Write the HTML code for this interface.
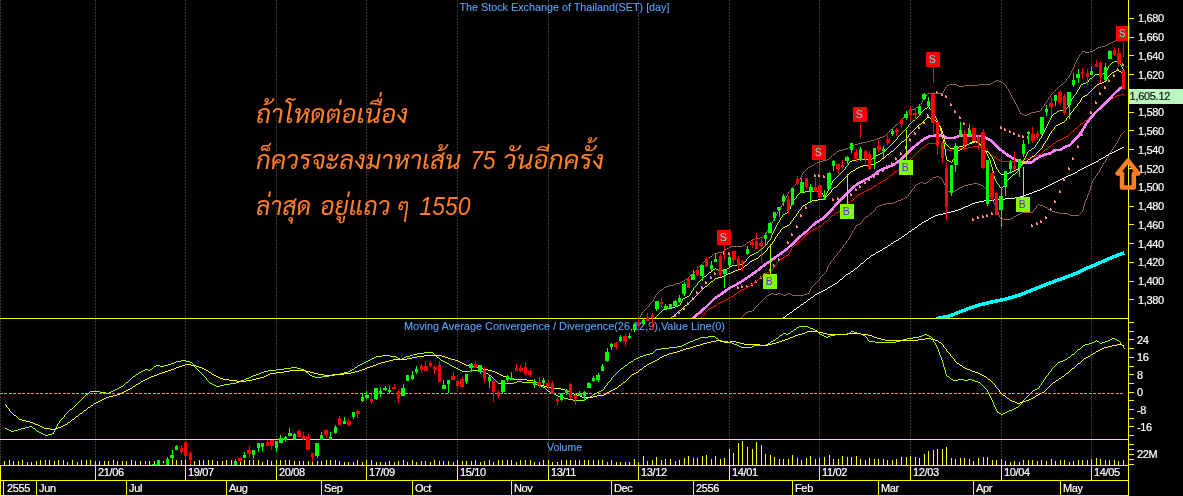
<!DOCTYPE html>
<html lang="th"><head><meta charset="utf-8"><title>SET chart</title>
<style>html,body{margin:0;padding:0;background:#000;overflow:hidden}body{width:1183px;height:496px;position:relative}</style></head>
<body>
<svg width="1183" height="496" viewBox="0 0 1183 496" style="display:block;position:absolute;left:0;top:0">
<defs>
<clipPath id="cTop"><rect x="0" y="0" width="1128" height="318"/></clipPath>
<clipPath id="cMk"><rect x="0" y="0" width="1130" height="318"/></clipPath>
<clipPath id="cMacd"><rect x="0" y="319" width="1128" height="120"/></clipPath>
<clipPath id="cAll"><rect x="0" y="0" width="1128" height="465"/></clipPath>
</defs>
<rect width="1183" height="496" fill="#000"/>
<g stroke="#3b363b" stroke-width="1" stroke-dasharray="2 1" shape-rendering="crispEdges">
<line x1="0.5" y1="0" x2="0.5" y2="465"/>
<line x1="95.5" y1="0" x2="95.5" y2="465"/>
<line x1="185.5" y1="0" x2="185.5" y2="465"/>
<line x1="276.5" y1="0" x2="276.5" y2="465"/>
<line x1="366.5" y1="0" x2="366.5" y2="465"/>
<line x1="457.5" y1="0" x2="457.5" y2="465"/>
<line x1="548.5" y1="0" x2="548.5" y2="465"/>
<line x1="638.5" y1="0" x2="638.5" y2="465"/>
<line x1="729.5" y1="0" x2="729.5" y2="465"/>
<line x1="819.5" y1="0" x2="819.5" y2="465"/>
<line x1="910.5" y1="0" x2="910.5" y2="465"/>
<line x1="1001.5" y1="0" x2="1001.5" y2="465"/>
<line x1="1091.5" y1="0" x2="1091.5" y2="465"/>
</g>
<g fill="#ffff00" shape-rendering="crispEdges">
<rect x="0" y="318" width="1129" height="1"/>
<rect x="0" y="439" width="1129" height="1"/>
<rect x="0" y="465" width="1129" height="1"/>
<rect x="0" y="480" width="1129" height="1"/>
<rect x="0" y="495" width="1129" height="1"/>
<rect x="0" y="465" width="1" height="31"/>
<rect x="3" y="480" width="1" height="16"/>
<rect x="1128" y="465" width="1" height="31"/>
<rect x="95" y="465" width="1" height="16"/>
<rect x="185" y="465" width="1" height="16"/>
<rect x="276" y="465" width="1" height="16"/>
<rect x="366" y="465" width="1" height="16"/>
<rect x="457" y="465" width="1" height="16"/>
<rect x="548" y="465" width="1" height="16"/>
<rect x="638" y="465" width="1" height="16"/>
<rect x="729" y="465" width="1" height="16"/>
<rect x="819" y="465" width="1" height="16"/>
<rect x="910" y="465" width="1" height="16"/>
<rect x="1001" y="465" width="1" height="16"/>
<rect x="1091" y="465" width="1" height="16"/>
<rect x="36" y="480" width="1" height="16"/>
<rect x="126" y="480" width="1" height="16"/>
<rect x="226" y="480" width="1" height="16"/>
<rect x="321" y="480" width="1" height="16"/>
<rect x="412" y="480" width="1" height="16"/>
<rect x="511" y="480" width="1" height="16"/>
<rect x="611" y="480" width="1" height="16"/>
<rect x="693" y="480" width="1" height="16"/>
<rect x="792" y="480" width="1" height="16"/>
<rect x="878" y="480" width="1" height="16"/>
<rect x="973" y="480" width="1" height="16"/>
<rect x="1060" y="480" width="1" height="16"/>
<rect x="4" y="461" width="1" height="4"/>
<rect x="9" y="460" width="1" height="5"/>
<rect x="13" y="461" width="1" height="4"/>
<rect x="18" y="461" width="1" height="4"/>
<rect x="22" y="460" width="1" height="5"/>
<rect x="27" y="462" width="1" height="3"/>
<rect x="31" y="462" width="1" height="3"/>
<rect x="36" y="461" width="1" height="4"/>
<rect x="40" y="460" width="1" height="5"/>
<rect x="45" y="460" width="1" height="5"/>
<rect x="49" y="460" width="1" height="5"/>
<rect x="54" y="461" width="1" height="4"/>
<rect x="58" y="460" width="1" height="5"/>
<rect x="63" y="460" width="1" height="5"/>
<rect x="67" y="462" width="1" height="3"/>
<rect x="72" y="460" width="1" height="5"/>
<rect x="77" y="462" width="1" height="3"/>
<rect x="81" y="460" width="1" height="5"/>
<rect x="86" y="460" width="1" height="5"/>
<rect x="90" y="460" width="1" height="5"/>
<rect x="95" y="461" width="1" height="4"/>
<rect x="99" y="461" width="1" height="4"/>
<rect x="104" y="461" width="1" height="4"/>
<rect x="108" y="461" width="1" height="4"/>
<rect x="113" y="460" width="1" height="5"/>
<rect x="117" y="461" width="1" height="4"/>
<rect x="122" y="461" width="1" height="4"/>
<rect x="126" y="461" width="1" height="4"/>
<rect x="131" y="460" width="1" height="5"/>
<rect x="135" y="461" width="1" height="4"/>
<rect x="140" y="461" width="1" height="4"/>
<rect x="145" y="461" width="1" height="4"/>
<rect x="149" y="461" width="1" height="4"/>
<rect x="154" y="461" width="1" height="4"/>
<rect x="158" y="461" width="1" height="4"/>
<rect x="163" y="461" width="1" height="4"/>
<rect x="167" y="460" width="1" height="5"/>
<rect x="172" y="460" width="1" height="5"/>
<rect x="176" y="460" width="1" height="5"/>
<rect x="181" y="460" width="1" height="5"/>
<rect x="185" y="460" width="1" height="5"/>
<rect x="190" y="460" width="1" height="5"/>
<rect x="194" y="461" width="1" height="4"/>
<rect x="199" y="460" width="1" height="5"/>
<rect x="203" y="460" width="1" height="5"/>
<rect x="208" y="460" width="1" height="5"/>
<rect x="212" y="460" width="1" height="5"/>
<rect x="217" y="461" width="1" height="4"/>
<rect x="222" y="461" width="1" height="4"/>
<rect x="226" y="460" width="1" height="5"/>
<rect x="231" y="460" width="1" height="5"/>
<rect x="235" y="460" width="1" height="5"/>
<rect x="240" y="460" width="1" height="5"/>
<rect x="244" y="460" width="1" height="5"/>
<rect x="249" y="460" width="1" height="5"/>
<rect x="253" y="460" width="1" height="5"/>
<rect x="258" y="460" width="1" height="5"/>
<rect x="262" y="462" width="1" height="3"/>
<rect x="267" y="460" width="1" height="5"/>
<rect x="271" y="461" width="1" height="4"/>
<rect x="276" y="460" width="1" height="5"/>
<rect x="280" y="460" width="1" height="5"/>
<rect x="285" y="460" width="1" height="5"/>
<rect x="289" y="460" width="1" height="5"/>
<rect x="294" y="461" width="1" height="4"/>
<rect x="299" y="461" width="1" height="4"/>
<rect x="303" y="461" width="1" height="4"/>
<rect x="308" y="461" width="1" height="4"/>
<rect x="312" y="460" width="1" height="5"/>
<rect x="317" y="461" width="1" height="4"/>
<rect x="321" y="461" width="1" height="4"/>
<rect x="326" y="460" width="1" height="5"/>
<rect x="330" y="460" width="1" height="5"/>
<rect x="335" y="460" width="1" height="5"/>
<rect x="339" y="461" width="1" height="4"/>
<rect x="344" y="462" width="1" height="3"/>
<rect x="348" y="462" width="1" height="3"/>
<rect x="353" y="462" width="1" height="3"/>
<rect x="357" y="460" width="1" height="5"/>
<rect x="362" y="462" width="1" height="3"/>
<rect x="366" y="460" width="1" height="5"/>
<rect x="371" y="460" width="1" height="5"/>
<rect x="376" y="462" width="1" height="3"/>
<rect x="380" y="462" width="1" height="3"/>
<rect x="385" y="462" width="1" height="3"/>
<rect x="389" y="461" width="1" height="4"/>
<rect x="394" y="462" width="1" height="3"/>
<rect x="398" y="461" width="1" height="4"/>
<rect x="403" y="460" width="1" height="5"/>
<rect x="407" y="462" width="1" height="3"/>
<rect x="412" y="460" width="1" height="5"/>
<rect x="416" y="462" width="1" height="3"/>
<rect x="421" y="461" width="1" height="4"/>
<rect x="425" y="461" width="1" height="4"/>
<rect x="430" y="462" width="1" height="3"/>
<rect x="434" y="460" width="1" height="5"/>
<rect x="439" y="461" width="1" height="4"/>
<rect x="443" y="461" width="1" height="4"/>
<rect x="448" y="461" width="1" height="4"/>
<rect x="453" y="462" width="1" height="3"/>
<rect x="457" y="460" width="1" height="5"/>
<rect x="462" y="461" width="1" height="4"/>
<rect x="466" y="461" width="1" height="4"/>
<rect x="471" y="461" width="1" height="4"/>
<rect x="475" y="460" width="1" height="5"/>
<rect x="480" y="462" width="1" height="3"/>
<rect x="484" y="461" width="1" height="4"/>
<rect x="489" y="460" width="1" height="5"/>
<rect x="493" y="462" width="1" height="3"/>
<rect x="498" y="460" width="1" height="5"/>
<rect x="502" y="460" width="1" height="5"/>
<rect x="507" y="460" width="1" height="5"/>
<rect x="511" y="460" width="1" height="5"/>
<rect x="516" y="462" width="1" height="3"/>
<rect x="520" y="460" width="1" height="5"/>
<rect x="525" y="460" width="1" height="5"/>
<rect x="530" y="460" width="1" height="5"/>
<rect x="534" y="462" width="1" height="3"/>
<rect x="539" y="462" width="1" height="3"/>
<rect x="543" y="460" width="1" height="5"/>
<rect x="548" y="460" width="1" height="5"/>
<rect x="552" y="462" width="1" height="3"/>
<rect x="557" y="462" width="1" height="3"/>
<rect x="561" y="460" width="1" height="5"/>
<rect x="566" y="460" width="1" height="5"/>
<rect x="570" y="460" width="1" height="5"/>
<rect x="575" y="460" width="1" height="5"/>
<rect x="579" y="460" width="1" height="5"/>
<rect x="584" y="460" width="1" height="5"/>
<rect x="588" y="460" width="1" height="5"/>
<rect x="593" y="460" width="1" height="5"/>
<rect x="598" y="460" width="1" height="5"/>
<rect x="602" y="460" width="1" height="5"/>
<rect x="607" y="462" width="1" height="3"/>
<rect x="611" y="460" width="1" height="5"/>
<rect x="616" y="462" width="1" height="3"/>
<rect x="620" y="462" width="1" height="3"/>
<rect x="625" y="462" width="1" height="3"/>
<rect x="629" y="462" width="1" height="3"/>
<rect x="634" y="459" width="1" height="6"/>
<rect x="638" y="462" width="1" height="3"/>
<rect x="643" y="456" width="1" height="9"/>
<rect x="647" y="461" width="1" height="4"/>
<rect x="652" y="460" width="1" height="5"/>
<rect x="656" y="457" width="1" height="8"/>
<rect x="661" y="460" width="1" height="5"/>
<rect x="665" y="459" width="1" height="6"/>
<rect x="670" y="459" width="1" height="6"/>
<rect x="675" y="461" width="1" height="4"/>
<rect x="679" y="460" width="1" height="5"/>
<rect x="684" y="458" width="1" height="7"/>
<rect x="688" y="456" width="1" height="9"/>
<rect x="693" y="458" width="1" height="7"/>
<rect x="697" y="458" width="1" height="7"/>
<rect x="702" y="456" width="1" height="9"/>
<rect x="706" y="455" width="1" height="10"/>
<rect x="711" y="459" width="1" height="6"/>
<rect x="715" y="456" width="1" height="9"/>
<rect x="720" y="459" width="1" height="6"/>
<rect x="724" y="458" width="1" height="7"/>
<rect x="729" y="449" width="1" height="16"/>
<rect x="733" y="453" width="1" height="12"/>
<rect x="738" y="443" width="1" height="22"/>
<rect x="742" y="441" width="1" height="24"/>
<rect x="747" y="447" width="1" height="18"/>
<rect x="752" y="449" width="1" height="16"/>
<rect x="756" y="442" width="1" height="23"/>
<rect x="761" y="445" width="1" height="20"/>
<rect x="765" y="454" width="1" height="11"/>
<rect x="770" y="455" width="1" height="10"/>
<rect x="774" y="457" width="1" height="8"/>
<rect x="779" y="459" width="1" height="6"/>
<rect x="783" y="459" width="1" height="6"/>
<rect x="788" y="459" width="1" height="6"/>
<rect x="792" y="455" width="1" height="10"/>
<rect x="797" y="458" width="1" height="7"/>
<rect x="801" y="460" width="1" height="5"/>
<rect x="806" y="458" width="1" height="7"/>
<rect x="810" y="456" width="1" height="9"/>
<rect x="815" y="459" width="1" height="6"/>
<rect x="819" y="458" width="1" height="7"/>
<rect x="824" y="457" width="1" height="8"/>
<rect x="829" y="455" width="1" height="10"/>
<rect x="833" y="459" width="1" height="6"/>
<rect x="838" y="459" width="1" height="6"/>
<rect x="842" y="456" width="1" height="9"/>
<rect x="847" y="457" width="1" height="8"/>
<rect x="851" y="457" width="1" height="8"/>
<rect x="856" y="456" width="1" height="9"/>
<rect x="860" y="459" width="1" height="6"/>
<rect x="865" y="460" width="1" height="5"/>
<rect x="869" y="458" width="1" height="7"/>
<rect x="874" y="459" width="1" height="6"/>
<rect x="878" y="459" width="1" height="6"/>
<rect x="883" y="459" width="1" height="6"/>
<rect x="887" y="460" width="1" height="5"/>
<rect x="892" y="460" width="1" height="5"/>
<rect x="896" y="459" width="1" height="6"/>
<rect x="901" y="457" width="1" height="8"/>
<rect x="906" y="457" width="1" height="8"/>
<rect x="910" y="456" width="1" height="9"/>
<rect x="915" y="457" width="1" height="8"/>
<rect x="919" y="458" width="1" height="7"/>
<rect x="924" y="454" width="1" height="11"/>
<rect x="928" y="451" width="1" height="14"/>
<rect x="933" y="450" width="1" height="15"/>
<rect x="937" y="449" width="1" height="16"/>
<rect x="942" y="449" width="1" height="16"/>
<rect x="946" y="447" width="1" height="18"/>
<rect x="951" y="458" width="1" height="7"/>
<rect x="955" y="459" width="1" height="6"/>
<rect x="960" y="458" width="1" height="7"/>
<rect x="964" y="458" width="1" height="7"/>
<rect x="969" y="459" width="1" height="6"/>
<rect x="973" y="461" width="1" height="4"/>
<rect x="978" y="458" width="1" height="7"/>
<rect x="983" y="457" width="1" height="8"/>
<rect x="987" y="457" width="1" height="8"/>
<rect x="992" y="460" width="1" height="5"/>
<rect x="996" y="460" width="1" height="5"/>
<rect x="1001" y="459" width="1" height="6"/>
<rect x="1005" y="461" width="1" height="4"/>
<rect x="1010" y="462" width="1" height="3"/>
<rect x="1014" y="461" width="1" height="4"/>
<rect x="1019" y="462" width="1" height="3"/>
<rect x="1023" y="460" width="1" height="5"/>
<rect x="1028" y="460" width="1" height="5"/>
<rect x="1032" y="460" width="1" height="5"/>
<rect x="1037" y="461" width="1" height="4"/>
<rect x="1041" y="460" width="1" height="5"/>
<rect x="1046" y="461" width="1" height="4"/>
<rect x="1051" y="459" width="1" height="6"/>
<rect x="1055" y="461" width="1" height="4"/>
<rect x="1060" y="460" width="1" height="5"/>
<rect x="1064" y="460" width="1" height="5"/>
<rect x="1069" y="462" width="1" height="3"/>
<rect x="1073" y="461" width="1" height="4"/>
<rect x="1078" y="460" width="1" height="5"/>
<rect x="1082" y="460" width="1" height="5"/>
<rect x="1087" y="460" width="1" height="5"/>
<rect x="1091" y="459" width="1" height="6"/>
<rect x="1096" y="458" width="1" height="7"/>
<rect x="1100" y="459" width="1" height="6"/>
<rect x="1105" y="460" width="1" height="5"/>
<rect x="1109" y="460" width="1" height="5"/>
<rect x="1114" y="460" width="1" height="5"/>
<rect x="1118" y="461" width="1" height="4"/>
<rect x="1123" y="460" width="1" height="5"/>
</g>
<g font-family="'Liberation Sans',Arial,sans-serif" font-size="11" fill="#58a4ff" stroke="#58a4ff" stroke-width="0.1">
<text x="459.5" y="10.6" textLength="210" lengthAdjust="spacingAndGlyphs">The Stock Exchange of Thailand(SET) [day]</text>
<text x="404" y="329.5" textLength="321" lengthAdjust="spacingAndGlyphs">Moving Average Convergence / Divergence(26,12,9),Value Line(0)</text>
<text x="547" y="451" textLength="35" lengthAdjust="spacingAndGlyphs">Volume</text>
</g>
<line x1="0" y1="393.5" x2="1125" y2="393.5" stroke="#ff8080" stroke-width="1" stroke-dasharray="3 2 3 1" stroke-dashoffset="5" shape-rendering="crispEdges"/>
<path d="M799 326h9v1h-9zM797 327h2v1h-2zM808 327h2v1h-2zM796 328h1v1h-1zM810 328h3v1h-3zM794 329h2v1h-2zM813 329h2v1h-2zM793 330h1v1h-1zM815 330h2v1h-2zM791 331h2v1h-2zM817 331h1v1h-1zM851 331h3v1h-3zM790 332h1v1h-1zM818 332h1v1h-1zM850 332h1v1h-1zM854 332h3v1h-3zM783 333h3v1h-3zM788 333h2v1h-2zM819 333h1v1h-1zM848 333h2v1h-2zM857 333h4v1h-4zM782 334h1v1h-1zM786 334h2v1h-2zM820 334h2v1h-2zM835 334h13v1h-13zM861 334h2v1h-2zM924 334h3v1h-3zM780 335h2v1h-2zM822 335h2v1h-2zM830 335h5v1h-5zM863 335h2v1h-2zM922 335h2v1h-2zM927 335h2v1h-2zM708 336h7v1h-7zM779 336h1v1h-1zM824 336h2v1h-2zM828 336h2v1h-2zM865 336h1v1h-1zM919 336h3v1h-3zM929 336h2v1h-2zM700 337h8v1h-8zM715 337h1v1h-1zM778 337h1v1h-1zM826 337h2v1h-2zM866 337h1v1h-1zM913 337h6v1h-6zM931 337h1v1h-1zM698 338h2v1h-2zM716 338h2v1h-2zM776 338h2v1h-2zM867 338h1v1h-1zM907 338h6v1h-6zM932 338h1v1h-1zM1112 338h3v1h-3zM695 339h3v1h-3zM718 339h1v1h-1zM775 339h1v1h-1zM867 339h1v1h-1zM903 339h4v1h-4zM932 339h1v1h-1zM1110 339h2v1h-2zM1115 339h2v1h-2zM693 340h2v1h-2zM719 340h3v1h-3zM773 340h2v1h-2zM868 340h1v1h-1zM900 340h3v1h-3zM933 340h1v1h-1zM1096 340h1v1h-1zM1108 340h2v1h-2zM1117 340h2v1h-2zM690 341h3v1h-3zM722 341h6v1h-6zM771 341h2v1h-2zM869 341h6v1h-6zM896 341h4v1h-4zM933 341h1v1h-1zM1094 341h2v1h-2zM1097 341h2v1h-2zM1105 341h3v1h-3zM1119 341h1v1h-1zM688 342h2v1h-2zM728 342h4v1h-4zM770 342h1v1h-1zM875 342h21v1h-21zM934 342h1v1h-1zM1092 342h2v1h-2zM1099 342h1v1h-1zM1102 342h3v1h-3zM1120 342h1v1h-1zM686 343h2v1h-2zM732 343h2v1h-2zM768 343h2v1h-2zM935 343h1v1h-1zM1089 343h3v1h-3zM1100 343h2v1h-2zM1120 343h1v1h-1zM684 344h2v1h-2zM734 344h3v1h-3zM766 344h2v1h-2zM935 344h1v1h-1zM1085 344h4v1h-4zM1121 344h1v1h-1zM682 345h2v1h-2zM737 345h2v1h-2zM754 345h12v1h-12zM936 345h1v1h-1zM1083 345h2v1h-2zM1122 345h1v1h-1zM677 346h5v1h-5zM739 346h2v1h-2zM752 346h2v1h-2zM936 346h1v1h-1zM1082 346h1v1h-1zM1123 346h1v1h-1zM669 347h8v1h-8zM741 347h11v1h-11zM937 347h1v1h-1zM1081 347h1v1h-1zM1123 347h1v1h-1zM661 348h8v1h-8zM937 348h1v1h-1zM1080 348h1v1h-1zM1124 348h1v1h-1zM656 349h5v1h-5zM938 349h1v1h-1zM1078 349h2v1h-2zM655 350h1v1h-1zM938 350h1v1h-1zM1077 350h1v1h-1zM654 351h1v1h-1zM938 351h1v1h-1zM1076 351h1v1h-1zM424 352h9v1h-9zM653 352h1v1h-1zM939 352h1v1h-1zM1075 352h1v1h-1zM417 353h7v1h-7zM433 353h1v1h-1zM650 353h3v1h-3zM939 353h1v1h-1zM1074 353h1v1h-1zM413 354h4v1h-4zM434 354h1v1h-1zM646 354h4v1h-4zM939 354h1v1h-1zM1072 354h2v1h-2zM382 355h8v1h-8zM410 355h3v1h-3zM435 355h1v1h-1zM643 355h3v1h-3zM940 355h1v1h-1zM1071 355h1v1h-1zM376 356h6v1h-6zM390 356h6v1h-6zM406 356h4v1h-4zM436 356h1v1h-1zM640 356h3v1h-3zM940 356h1v1h-1zM1070 356h1v1h-1zM374 357h2v1h-2zM396 357h2v1h-2zM404 357h2v1h-2zM437 357h2v1h-2zM638 357h2v1h-2zM941 357h1v1h-1zM1068 357h2v1h-2zM372 358h2v1h-2zM398 358h2v1h-2zM402 358h2v1h-2zM439 358h1v1h-1zM636 358h2v1h-2zM941 358h1v1h-1zM1067 358h1v1h-1zM370 359h2v1h-2zM400 359h2v1h-2zM440 359h1v1h-1zM634 359h2v1h-2zM941 359h1v1h-1zM1065 359h2v1h-2zM181 360h5v1h-5zM368 360h2v1h-2zM441 360h2v1h-2zM633 360h1v1h-1zM942 360h1v1h-1zM1063 360h2v1h-2zM176 361h5v1h-5zM186 361h4v1h-4zM366 361h2v1h-2zM443 361h2v1h-2zM631 361h2v1h-2zM942 361h1v1h-1zM1060 361h3v1h-3zM174 362h2v1h-2zM190 362h2v1h-2zM364 362h2v1h-2zM445 362h2v1h-2zM629 362h2v1h-2zM942 362h1v1h-1zM1058 362h2v1h-2zM171 363h3v1h-3zM192 363h1v1h-1zM362 363h2v1h-2zM447 363h2v1h-2zM628 363h1v1h-1zM943 363h1v1h-1zM1057 363h1v1h-1zM168 364h3v1h-3zM193 364h1v1h-1zM360 364h2v1h-2zM449 364h1v1h-1zM627 364h1v1h-1zM943 364h1v1h-1zM1056 364h1v1h-1zM156 365h4v1h-4zM164 365h4v1h-4zM194 365h1v1h-1zM358 365h2v1h-2zM450 365h2v1h-2zM625 365h2v1h-2zM943 365h1v1h-1zM1055 365h1v1h-1zM154 366h2v1h-2zM160 366h4v1h-4zM194 366h1v1h-1zM357 366h1v1h-1zM452 366h2v1h-2zM624 366h1v1h-1zM943 366h1v1h-1zM1054 366h1v1h-1zM153 367h1v1h-1zM195 367h1v1h-1zM291 367h6v1h-6zM355 367h2v1h-2zM454 367h2v1h-2zM623 367h1v1h-1zM944 367h1v1h-1zM1053 367h1v1h-1zM152 368h1v1h-1zM196 368h1v1h-1zM284 368h7v1h-7zM297 368h4v1h-4zM354 368h1v1h-1zM456 368h2v1h-2zM621 368h2v1h-2zM944 368h1v1h-1zM1052 368h1v1h-1zM145 369h3v1h-3zM150 369h2v1h-2zM197 369h1v1h-1zM276 369h8v1h-8zM301 369h3v1h-3zM352 369h2v1h-2zM458 369h2v1h-2zM620 369h1v1h-1zM944 369h1v1h-1zM1051 369h1v1h-1zM143 370h2v1h-2zM148 370h2v1h-2zM198 370h1v1h-1zM268 370h8v1h-8zM304 370h1v1h-1zM350 370h2v1h-2zM460 370h2v1h-2zM470 370h11v1h-11zM619 370h1v1h-1zM945 370h1v1h-1zM1051 370h1v1h-1zM141 371h2v1h-2zM199 371h1v1h-1zM264 371h4v1h-4zM305 371h1v1h-1zM348 371h2v1h-2zM462 371h8v1h-8zM481 371h2v1h-2zM618 371h1v1h-1zM945 371h1v1h-1zM1050 371h1v1h-1zM139 372h2v1h-2zM200 372h1v1h-1zM261 372h3v1h-3zM306 372h2v1h-2zM344 372h4v1h-4zM483 372h3v1h-3zM617 372h1v1h-1zM945 372h1v1h-1zM1049 372h1v1h-1zM138 373h1v1h-1zM201 373h1v1h-1zM259 373h2v1h-2zM308 373h1v1h-1zM340 373h4v1h-4zM486 373h2v1h-2zM616 373h1v1h-1zM945 373h1v1h-1zM1048 373h1v1h-1zM136 374h2v1h-2zM202 374h1v1h-1zM256 374h3v1h-3zM309 374h1v1h-1zM335 374h5v1h-5zM488 374h1v1h-1zM615 374h1v1h-1zM946 374h1v1h-1zM1048 374h1v1h-1zM135 375h1v1h-1zM203 375h1v1h-1zM253 375h3v1h-3zM310 375h2v1h-2zM329 375h6v1h-6zM489 375h2v1h-2zM614 375h1v1h-1zM946 375h1v1h-1zM1047 375h1v1h-1zM133 376h2v1h-2zM204 376h1v1h-1zM251 376h2v1h-2zM312 376h3v1h-3zM322 376h7v1h-7zM491 376h1v1h-1zM613 376h1v1h-1zM947 376h2v1h-2zM1046 376h1v1h-1zM132 377h1v1h-1zM205 377h1v1h-1zM249 377h2v1h-2zM315 377h7v1h-7zM492 377h1v1h-1zM612 377h1v1h-1zM949 377h1v1h-1zM1045 377h1v1h-1zM131 378h1v1h-1zM206 378h1v1h-1zM246 378h3v1h-3zM493 378h1v1h-1zM611 378h1v1h-1zM950 378h1v1h-1zM1045 378h1v1h-1zM130 379h1v1h-1zM206 379h1v1h-1zM244 379h2v1h-2zM494 379h1v1h-1zM611 379h1v1h-1zM951 379h2v1h-2zM958 379h6v1h-6zM968 379h4v1h-4zM1044 379h1v1h-1zM129 380h1v1h-1zM207 380h1v1h-1zM241 380h3v1h-3zM495 380h1v1h-1zM610 380h1v1h-1zM953 380h5v1h-5zM964 380h4v1h-4zM972 380h3v1h-3zM1043 380h1v1h-1zM128 381h1v1h-1zM208 381h1v1h-1zM239 381h2v1h-2zM496 381h1v1h-1zM517 381h5v1h-5zM609 381h1v1h-1zM975 381h3v1h-3zM1043 381h1v1h-1zM126 382h2v1h-2zM209 382h1v1h-1zM236 382h3v1h-3zM497 382h1v1h-1zM514 382h3v1h-3zM522 382h12v1h-12zM608 382h1v1h-1zM978 382h2v1h-2zM1042 382h1v1h-1zM125 383h1v1h-1zM210 383h2v1h-2zM230 383h6v1h-6zM498 383h16v1h-16zM534 383h2v1h-2zM607 383h1v1h-1zM980 383h1v1h-1zM1041 383h1v1h-1zM124 384h1v1h-1zM212 384h2v1h-2zM224 384h6v1h-6zM536 384h2v1h-2zM607 384h1v1h-1zM981 384h1v1h-1zM1041 384h1v1h-1zM123 385h1v1h-1zM214 385h2v1h-2zM220 385h4v1h-4zM538 385h3v1h-3zM606 385h1v1h-1zM982 385h1v1h-1zM1040 385h1v1h-1zM121 386h2v1h-2zM216 386h4v1h-4zM541 386h2v1h-2zM605 386h1v1h-1zM983 386h1v1h-1zM1039 386h1v1h-1zM119 387h2v1h-2zM543 387h2v1h-2zM604 387h1v1h-1zM984 387h1v1h-1zM1039 387h1v1h-1zM117 388h2v1h-2zM545 388h1v1h-1zM604 388h1v1h-1zM985 388h1v1h-1zM1037 388h2v1h-2zM115 389h2v1h-2zM546 389h1v1h-1zM603 389h1v1h-1zM986 389h1v1h-1zM1035 389h2v1h-2zM113 390h2v1h-2zM547 390h1v1h-1zM601 390h2v1h-2zM987 390h1v1h-1zM1033 390h2v1h-2zM90 391h10v1h-10zM111 391h2v1h-2zM548 391h2v1h-2zM599 391h2v1h-2zM987 391h1v1h-1zM1032 391h1v1h-1zM89 392h1v1h-1zM100 392h6v1h-6zM109 392h2v1h-2zM550 392h2v1h-2zM597 392h2v1h-2zM988 392h1v1h-1zM1031 392h1v1h-1zM88 393h1v1h-1zM106 393h3v1h-3zM552 393h2v1h-2zM595 393h2v1h-2zM988 393h1v1h-1zM1030 393h1v1h-1zM86 394h2v1h-2zM554 394h2v1h-2zM593 394h2v1h-2zM989 394h1v1h-1zM1029 394h1v1h-1zM85 395h1v1h-1zM556 395h2v1h-2zM592 395h1v1h-1zM989 395h1v1h-1zM1028 395h1v1h-1zM84 396h1v1h-1zM558 396h2v1h-2zM590 396h2v1h-2zM990 396h1v1h-1zM1027 396h1v1h-1zM83 397h1v1h-1zM560 397h4v1h-4zM588 397h2v1h-2zM990 397h1v1h-1zM1026 397h1v1h-1zM82 398h1v1h-1zM564 398h4v1h-4zM586 398h2v1h-2zM991 398h1v1h-1zM1025 398h1v1h-1zM81 399h1v1h-1zM568 399h5v1h-5zM584 399h2v1h-2zM991 399h1v1h-1zM1024 399h1v1h-1zM80 400h1v1h-1zM573 400h11v1h-11zM992 400h1v1h-1zM1023 400h1v1h-1zM79 401h1v1h-1zM992 401h1v1h-1zM1022 401h1v1h-1zM78 402h1v1h-1zM993 402h1v1h-1zM1021 402h1v1h-1zM77 403h1v1h-1zM993 403h1v1h-1zM1021 403h1v1h-1zM76 404h1v1h-1zM993 404h1v1h-1zM1020 404h1v1h-1zM75 405h1v1h-1zM994 405h1v1h-1zM1019 405h1v1h-1zM74 406h1v1h-1zM994 406h1v1h-1zM1018 406h1v1h-1zM73 407h1v1h-1zM995 407h1v1h-1zM1016 407h2v1h-2zM72 408h1v1h-1zM995 408h1v1h-1zM1014 408h2v1h-2zM70 409h2v1h-2zM996 409h1v1h-1zM1012 409h2v1h-2zM69 410h1v1h-1zM996 410h1v1h-1zM1009 410h3v1h-3zM68 411h1v1h-1zM997 411h1v1h-1zM1007 411h2v1h-2zM67 412h1v1h-1zM997 412h2v1h-2zM1005 412h2v1h-2zM66 413h1v1h-1zM999 413h2v1h-2zM1003 413h2v1h-2zM65 414h1v1h-1zM1001 414h2v1h-2zM64 415h1v1h-1zM64 416h1v1h-1zM63 417h1v1h-1zM62 418h1v1h-1zM61 419h1v1h-1zM60 420h1v1h-1zM59 421h1v1h-1zM59 422h1v1h-1zM58 423h1v1h-1zM57 424h1v1h-1zM57 425h1v1h-1zM29 426h3v1h-3zM56 426h1v1h-1zM25 427h4v1h-4zM32 427h1v1h-1zM56 427h1v1h-1zM5 428h2v1h-2zM21 428h4v1h-4zM33 428h2v1h-2zM55 428h1v1h-1zM7 429h2v1h-2zM18 429h3v1h-3zM35 429h1v1h-1zM55 429h1v1h-1zM9 430h2v1h-2zM14 430h4v1h-4zM36 430h1v1h-1zM54 430h1v1h-1zM11 431h3v1h-3zM37 431h2v1h-2zM54 431h1v1h-1zM39 432h2v1h-2zM53 432h1v1h-1zM41 433h2v1h-2zM52 433h2v1h-2zM43 434h2v1h-2zM48 434h4v1h-4zM45 435h3v1h-3z" fill="#9bff00" shape-rendering="crispEdges"/>
<path d="M807 331h11v1h-11zM805 332h2v1h-2zM818 332h5v1h-5zM802 333h3v1h-3zM823 333h4v1h-4zM847 333h14v1h-14zM798 334h4v1h-4zM827 334h20v1h-20zM861 334h7v1h-7zM795 335h3v1h-3zM868 335h4v1h-4zM793 336h2v1h-2zM872 336h2v1h-2zM790 337h3v1h-3zM874 337h3v1h-3zM788 338h2v1h-2zM877 338h4v1h-4zM925 338h6v1h-6zM785 339h3v1h-3zM881 339h4v1h-4zM918 339h7v1h-7zM931 339h4v1h-4zM716 340h4v1h-4zM782 340h3v1h-3zM885 340h33v1h-33zM935 340h3v1h-3zM711 341h5v1h-5zM720 341h4v1h-4zM730 341h6v1h-6zM779 341h3v1h-3zM938 341h1v1h-1zM707 342h4v1h-4zM724 342h6v1h-6zM736 342h4v1h-4zM776 342h3v1h-3zM939 342h2v1h-2zM703 343h4v1h-4zM740 343h4v1h-4zM772 343h4v1h-4zM941 343h1v1h-1zM700 344h3v1h-3zM744 344h16v1h-16zM768 344h4v1h-4zM942 344h1v1h-1zM1117 344h5v1h-5zM696 345h4v1h-4zM760 345h8v1h-8zM943 345h1v1h-1zM1112 345h5v1h-5zM1122 345h2v1h-2zM693 346h3v1h-3zM943 346h1v1h-1zM1108 346h4v1h-4zM690 347h3v1h-3zM944 347h1v1h-1zM1104 347h4v1h-4zM686 348h4v1h-4zM945 348h1v1h-1zM1102 348h2v1h-2zM683 349h3v1h-3zM946 349h1v1h-1zM1100 349h2v1h-2zM680 350h3v1h-3zM946 350h1v1h-1zM1098 350h2v1h-2zM677 351h3v1h-3zM947 351h1v1h-1zM1096 351h2v1h-2zM673 352h4v1h-4zM948 352h1v1h-1zM1095 352h1v1h-1zM669 353h4v1h-4zM949 353h1v1h-1zM1093 353h2v1h-2zM667 354h2v1h-2zM950 354h1v1h-1zM1091 354h2v1h-2zM424 355h18v1h-18zM664 355h3v1h-3zM950 355h1v1h-1zM1090 355h1v1h-1zM417 356h7v1h-7zM442 356h3v1h-3zM662 356h2v1h-2zM951 356h1v1h-1zM1088 356h2v1h-2zM412 357h5v1h-5zM445 357h3v1h-3zM660 357h2v1h-2zM952 357h1v1h-1zM1086 357h2v1h-2zM407 358h5v1h-5zM448 358h3v1h-3zM659 358h1v1h-1zM953 358h1v1h-1zM1084 358h2v1h-2zM393 359h14v1h-14zM451 359h4v1h-4zM657 359h2v1h-2zM954 359h1v1h-1zM1083 359h1v1h-1zM389 360h4v1h-4zM455 360h3v1h-3zM655 360h2v1h-2zM954 360h1v1h-1zM1082 360h1v1h-1zM385 361h4v1h-4zM458 361h2v1h-2zM653 361h2v1h-2zM955 361h1v1h-1zM1081 361h1v1h-1zM381 362h4v1h-4zM460 362h2v1h-2zM651 362h2v1h-2zM956 362h1v1h-1zM1080 362h1v1h-1zM378 363h3v1h-3zM462 363h2v1h-2zM649 363h2v1h-2zM957 363h2v1h-2zM1078 363h2v1h-2zM185 364h6v1h-6zM376 364h2v1h-2zM464 364h2v1h-2zM647 364h2v1h-2zM959 364h1v1h-1zM1077 364h1v1h-1zM182 365h3v1h-3zM191 365h5v1h-5zM373 365h3v1h-3zM466 365h5v1h-5zM646 365h1v1h-1zM960 365h2v1h-2zM1076 365h1v1h-1zM179 366h3v1h-3zM196 366h3v1h-3zM370 366h3v1h-3zM471 366h6v1h-6zM644 366h2v1h-2zM962 366h1v1h-1zM1075 366h1v1h-1zM176 367h3v1h-3zM199 367h3v1h-3zM367 367h3v1h-3zM477 367h4v1h-4zM643 367h1v1h-1zM963 367h2v1h-2zM1074 367h1v1h-1zM174 368h2v1h-2zM202 368h2v1h-2zM365 368h2v1h-2zM481 368h2v1h-2zM642 368h1v1h-1zM965 368h2v1h-2zM1072 368h2v1h-2zM171 369h3v1h-3zM204 369h2v1h-2zM362 369h3v1h-3zM483 369h5v1h-5zM640 369h2v1h-2zM967 369h3v1h-3zM1071 369h1v1h-1zM168 370h3v1h-3zM206 370h2v1h-2zM290 370h16v1h-16zM359 370h3v1h-3zM488 370h4v1h-4zM639 370h1v1h-1zM970 370h2v1h-2zM1070 370h1v1h-1zM165 371h3v1h-3zM208 371h1v1h-1zM284 371h6v1h-6zM306 371h4v1h-4zM355 371h4v1h-4zM492 371h3v1h-3zM638 371h1v1h-1zM972 371h3v1h-3zM1069 371h1v1h-1zM162 372h3v1h-3zM209 372h2v1h-2zM276 372h8v1h-8zM310 372h4v1h-4zM351 372h4v1h-4zM495 372h2v1h-2zM636 372h2v1h-2zM975 372h3v1h-3zM1068 372h1v1h-1zM159 373h3v1h-3zM211 373h1v1h-1zM270 373h6v1h-6zM314 373h4v1h-4zM344 373h7v1h-7zM497 373h2v1h-2zM634 373h2v1h-2zM978 373h2v1h-2zM1066 373h2v1h-2zM157 374h2v1h-2zM212 374h2v1h-2zM268 374h2v1h-2zM318 374h6v1h-6zM332 374h12v1h-12zM499 374h2v1h-2zM632 374h2v1h-2zM980 374h2v1h-2zM1065 374h1v1h-1zM154 375h3v1h-3zM214 375h2v1h-2zM266 375h2v1h-2zM324 375h8v1h-8zM501 375h2v1h-2zM631 375h1v1h-1zM982 375h2v1h-2zM1064 375h1v1h-1zM151 376h3v1h-3zM216 376h2v1h-2zM264 376h2v1h-2zM503 376h3v1h-3zM630 376h1v1h-1zM984 376h2v1h-2zM1062 376h2v1h-2zM149 377h2v1h-2zM218 377h2v1h-2zM260 377h4v1h-4zM506 377h3v1h-3zM629 377h1v1h-1zM986 377h1v1h-1zM1061 377h1v1h-1zM147 378h2v1h-2zM220 378h3v1h-3zM256 378h4v1h-4zM509 378h2v1h-2zM628 378h1v1h-1zM987 378h1v1h-1zM1059 378h2v1h-2zM145 379h2v1h-2zM223 379h6v1h-6zM252 379h4v1h-4zM511 379h16v1h-16zM627 379h1v1h-1zM988 379h2v1h-2zM1058 379h1v1h-1zM143 380h2v1h-2zM229 380h8v1h-8zM246 380h6v1h-6zM527 380h6v1h-6zM626 380h1v1h-1zM990 380h1v1h-1zM1056 380h2v1h-2zM141 381h2v1h-2zM237 381h9v1h-9zM533 381h2v1h-2zM625 381h1v1h-1zM991 381h1v1h-1zM1055 381h1v1h-1zM140 382h1v1h-1zM535 382h2v1h-2zM623 382h2v1h-2zM992 382h1v1h-1zM1053 382h2v1h-2zM138 383h2v1h-2zM537 383h2v1h-2zM622 383h1v1h-1zM993 383h1v1h-1zM1052 383h1v1h-1zM136 384h2v1h-2zM539 384h2v1h-2zM621 384h1v1h-1zM994 384h1v1h-1zM1051 384h1v1h-1zM135 385h1v1h-1zM541 385h3v1h-3zM619 385h2v1h-2zM995 385h1v1h-1zM1050 385h1v1h-1zM133 386h2v1h-2zM544 386h3v1h-3zM618 386h1v1h-1zM995 386h1v1h-1zM1049 386h1v1h-1zM132 387h1v1h-1zM547 387h7v1h-7zM617 387h1v1h-1zM996 387h1v1h-1zM1048 387h1v1h-1zM130 388h2v1h-2zM554 388h7v1h-7zM615 388h2v1h-2zM997 388h1v1h-1zM1047 388h1v1h-1zM128 389h2v1h-2zM561 389h4v1h-4zM613 389h2v1h-2zM998 389h1v1h-1zM1046 389h1v1h-1zM126 390h2v1h-2zM565 390h3v1h-3zM611 390h2v1h-2zM999 390h1v1h-1zM1045 390h1v1h-1zM124 391h2v1h-2zM568 391h2v1h-2zM609 391h2v1h-2zM999 391h1v1h-1zM1044 391h1v1h-1zM122 392h2v1h-2zM570 392h2v1h-2zM607 392h2v1h-2zM1000 392h1v1h-1zM1042 392h2v1h-2zM120 393h2v1h-2zM572 393h2v1h-2zM606 393h1v1h-1zM1001 393h1v1h-1zM1040 393h2v1h-2zM117 394h3v1h-3zM574 394h3v1h-3zM604 394h2v1h-2zM1002 394h1v1h-1zM1038 394h2v1h-2zM113 395h4v1h-4zM577 395h3v1h-3zM597 395h7v1h-7zM1003 395h2v1h-2zM1036 395h2v1h-2zM109 396h4v1h-4zM580 396h2v1h-2zM593 396h4v1h-4zM1005 396h1v1h-1zM1035 396h1v1h-1zM106 397h3v1h-3zM582 397h11v1h-11zM1006 397h1v1h-1zM1033 397h2v1h-2zM104 398h2v1h-2zM1007 398h2v1h-2zM1031 398h2v1h-2zM102 399h2v1h-2zM1009 399h1v1h-1zM1029 399h2v1h-2zM100 400h2v1h-2zM1010 400h2v1h-2zM1026 400h3v1h-3zM98 401h2v1h-2zM1012 401h3v1h-3zM1023 401h3v1h-3zM96 402h2v1h-2zM1015 402h2v1h-2zM1020 402h3v1h-3zM94 403h2v1h-2zM1017 403h3v1h-3zM5 404h1v1h-1zM93 404h1v1h-1zM6 405h1v1h-1zM91 405h2v1h-2zM6 406h1v1h-1zM90 406h1v1h-1zM7 407h1v1h-1zM88 407h2v1h-2zM8 408h1v1h-1zM87 408h1v1h-1zM9 409h1v1h-1zM86 409h1v1h-1zM9 410h1v1h-1zM84 410h2v1h-2zM10 411h1v1h-1zM83 411h1v1h-1zM11 412h1v1h-1zM82 412h1v1h-1zM12 413h1v1h-1zM80 413h2v1h-2zM13 414h1v1h-1zM79 414h1v1h-1zM14 415h2v1h-2zM78 415h1v1h-1zM16 416h1v1h-1zM76 416h2v1h-2zM17 417h1v1h-1zM75 417h1v1h-1zM18 418h1v1h-1zM74 418h1v1h-1zM19 419h3v1h-3zM72 419h2v1h-2zM22 420h4v1h-4zM71 420h1v1h-1zM26 421h4v1h-4zM70 421h1v1h-1zM30 422h3v1h-3zM68 422h2v1h-2zM33 423h2v1h-2zM67 423h1v1h-1zM35 424h3v1h-3zM65 424h2v1h-2zM38 425h2v1h-2zM63 425h2v1h-2zM40 426h2v1h-2zM61 426h2v1h-2zM42 427h2v1h-2zM58 427h3v1h-3zM44 428h6v1h-6zM55 428h3v1h-3zM50 429h5v1h-5z" fill="#ffff00" shape-rendering="crispEdges"/>
<g fill="#ff8a7c" clip-path="url(#cTop)" shape-rendering="crispEdges">
<rect x="674" y="314" width="1" height="1"/><rect x="674" y="315" width="2" height="2"/>
<rect x="678" y="311" width="1" height="1"/><rect x="678" y="312" width="2" height="2"/>
<rect x="683" y="307" width="1" height="1"/><rect x="683" y="308" width="2" height="2"/>
<rect x="687" y="302" width="1" height="1"/><rect x="687" y="303" width="2" height="2"/>
<rect x="692" y="297" width="1" height="1"/><rect x="692" y="298" width="2" height="2"/>
<rect x="696" y="291" width="1" height="1"/><rect x="696" y="292" width="2" height="2"/>
<rect x="701" y="286" width="1" height="1"/><rect x="701" y="287" width="2" height="2"/>
<rect x="705" y="281" width="1" height="1"/><rect x="705" y="282" width="2" height="2"/>
<rect x="710" y="276" width="1" height="1"/><rect x="710" y="277" width="2" height="2"/>
<rect x="714" y="272" width="1" height="1"/><rect x="714" y="273" width="2" height="2"/>
<rect x="723" y="252" width="1" height="1"/><rect x="723" y="253" width="2" height="2"/>
<rect x="728" y="252" width="1" height="1"/><rect x="728" y="253" width="2" height="2"/>
<rect x="737" y="286" width="1" height="1"/><rect x="737" y="287" width="2" height="2"/>
<rect x="741" y="285" width="1" height="1"/><rect x="741" y="286" width="2" height="2"/>
<rect x="746" y="285" width="1" height="1"/><rect x="746" y="286" width="2" height="2"/>
<rect x="751" y="283" width="1" height="1"/><rect x="751" y="284" width="2" height="2"/>
<rect x="755" y="280" width="1" height="1"/><rect x="755" y="281" width="2" height="2"/>
<rect x="760" y="276" width="1" height="1"/><rect x="760" y="277" width="2" height="2"/>
<rect x="764" y="273" width="1" height="1"/><rect x="764" y="274" width="2" height="2"/>
<rect x="769" y="269" width="1" height="1"/><rect x="769" y="270" width="2" height="2"/>
<rect x="773" y="264" width="1" height="1"/><rect x="773" y="265" width="2" height="2"/>
<rect x="778" y="258" width="1" height="1"/><rect x="778" y="259" width="2" height="2"/>
<rect x="787" y="241" width="1" height="1"/><rect x="787" y="242" width="2" height="2"/>
<rect x="791" y="233" width="1" height="1"/><rect x="791" y="234" width="2" height="2"/>
<rect x="796" y="225" width="1" height="1"/><rect x="796" y="226" width="2" height="2"/>
<rect x="800" y="214" width="1" height="1"/><rect x="800" y="215" width="2" height="2"/>
<rect x="805" y="206" width="1" height="1"/><rect x="805" y="207" width="2" height="2"/>
<rect x="814" y="174" width="1" height="1"/><rect x="814" y="175" width="2" height="2"/>
<rect x="818" y="174" width="1" height="1"/><rect x="818" y="175" width="2" height="2"/>
<rect x="823" y="175" width="1" height="1"/><rect x="823" y="176" width="2" height="2"/>
<rect x="832" y="198" width="1" height="1"/><rect x="832" y="199" width="2" height="2"/>
<rect x="837" y="197" width="1" height="1"/><rect x="837" y="198" width="2" height="2"/>
<rect x="841" y="197" width="1" height="1"/><rect x="841" y="198" width="2" height="2"/>
<rect x="850" y="193" width="1" height="1"/><rect x="850" y="194" width="2" height="2"/>
<rect x="855" y="188" width="1" height="1"/><rect x="855" y="189" width="2" height="2"/>
<rect x="859" y="185" width="1" height="1"/><rect x="859" y="186" width="2" height="2"/>
<rect x="864" y="181" width="1" height="1"/><rect x="864" y="182" width="2" height="2"/>
<rect x="868" y="178" width="1" height="1"/><rect x="868" y="179" width="2" height="2"/>
<rect x="873" y="175" width="1" height="1"/><rect x="873" y="176" width="2" height="2"/>
<rect x="877" y="172" width="1" height="1"/><rect x="877" y="173" width="2" height="2"/>
<rect x="882" y="169" width="1" height="1"/><rect x="882" y="170" width="2" height="2"/>
<rect x="886" y="165" width="1" height="1"/><rect x="886" y="166" width="2" height="2"/>
<rect x="891" y="162" width="1" height="1"/><rect x="891" y="163" width="2" height="2"/>
<rect x="895" y="157" width="1" height="1"/><rect x="895" y="158" width="2" height="2"/>
<rect x="900" y="152" width="1" height="1"/><rect x="900" y="153" width="2" height="2"/>
<rect x="905" y="146" width="1" height="1"/><rect x="905" y="147" width="2" height="2"/>
<rect x="909" y="138" width="1" height="1"/><rect x="909" y="139" width="2" height="2"/>
<rect x="914" y="132" width="1" height="1"/><rect x="914" y="133" width="2" height="2"/>
<rect x="918" y="126" width="1" height="1"/><rect x="918" y="127" width="2" height="2"/>
<rect x="923" y="121" width="1" height="1"/><rect x="923" y="122" width="2" height="2"/>
<rect x="927" y="114" width="1" height="1"/><rect x="927" y="115" width="2" height="2"/>
<rect x="936" y="91" width="1" height="1"/><rect x="936" y="92" width="2" height="2"/>
<rect x="941" y="93" width="1" height="1"/><rect x="941" y="94" width="2" height="2"/>
<rect x="945" y="95" width="1" height="1"/><rect x="945" y="96" width="2" height="2"/>
<rect x="950" y="103" width="1" height="1"/><rect x="950" y="104" width="2" height="2"/>
<rect x="954" y="110" width="1" height="1"/><rect x="954" y="111" width="2" height="2"/>
<rect x="959" y="116" width="1" height="1"/><rect x="959" y="117" width="2" height="2"/>
<rect x="963" y="122" width="1" height="1"/><rect x="963" y="123" width="2" height="2"/>
<rect x="968" y="128" width="1" height="1"/><rect x="968" y="129" width="2" height="2"/>
<rect x="972" y="218" width="1" height="1"/><rect x="972" y="219" width="2" height="2"/>
<rect x="977" y="216" width="1" height="1"/><rect x="977" y="217" width="2" height="2"/>
<rect x="982" y="215" width="1" height="1"/><rect x="982" y="216" width="2" height="2"/>
<rect x="986" y="214" width="1" height="1"/><rect x="986" y="215" width="2" height="2"/>
<rect x="991" y="212" width="1" height="1"/><rect x="991" y="213" width="2" height="2"/>
<rect x="1000" y="126" width="1" height="1"/><rect x="1000" y="127" width="2" height="2"/>
<rect x="1004" y="128" width="1" height="1"/><rect x="1004" y="129" width="2" height="2"/>
<rect x="1009" y="130" width="1" height="1"/><rect x="1009" y="131" width="2" height="2"/>
<rect x="1013" y="132" width="1" height="1"/><rect x="1013" y="133" width="2" height="2"/>
<rect x="1018" y="134" width="1" height="1"/><rect x="1018" y="135" width="2" height="2"/>
<rect x="1022" y="135" width="1" height="1"/><rect x="1022" y="136" width="2" height="2"/>
<rect x="1027" y="136" width="1" height="1"/><rect x="1027" y="137" width="2" height="2"/>
<rect x="1031" y="224" width="1" height="1"/><rect x="1031" y="225" width="2" height="2"/>
<rect x="1036" y="222" width="1" height="1"/><rect x="1036" y="223" width="2" height="2"/>
<rect x="1040" y="220" width="1" height="1"/><rect x="1040" y="221" width="2" height="2"/>
<rect x="1045" y="216" width="1" height="1"/><rect x="1045" y="217" width="2" height="2"/>
<rect x="1050" y="208" width="1" height="1"/><rect x="1050" y="209" width="2" height="2"/>
<rect x="1054" y="200" width="1" height="1"/><rect x="1054" y="201" width="2" height="2"/>
<rect x="1059" y="190" width="1" height="1"/><rect x="1059" y="191" width="2" height="2"/>
<rect x="1063" y="178" width="1" height="1"/><rect x="1063" y="179" width="2" height="2"/>
<rect x="1068" y="167" width="1" height="1"/><rect x="1068" y="168" width="2" height="2"/>
<rect x="1072" y="157" width="1" height="1"/><rect x="1072" y="158" width="2" height="2"/>
<rect x="1077" y="145" width="1" height="1"/><rect x="1077" y="146" width="2" height="2"/>
<rect x="1081" y="133" width="1" height="1"/><rect x="1081" y="134" width="2" height="2"/>
<rect x="1086" y="121" width="1" height="1"/><rect x="1086" y="122" width="2" height="2"/>
<rect x="1090" y="111" width="1" height="1"/><rect x="1090" y="112" width="2" height="2"/>
<rect x="1095" y="101" width="1" height="1"/><rect x="1095" y="102" width="2" height="2"/>
<rect x="1099" y="92" width="1" height="1"/><rect x="1099" y="93" width="2" height="2"/>
<rect x="1104" y="86" width="1" height="1"/><rect x="1104" y="87" width="2" height="2"/>
<rect x="1108" y="79" width="1" height="1"/><rect x="1108" y="80" width="2" height="2"/>
<rect x="1113" y="74" width="1" height="1"/><rect x="1113" y="75" width="2" height="2"/>
<rect x="1117" y="68" width="1" height="1"/><rect x="1117" y="69" width="2" height="2"/>
<rect x="1122" y="63" width="1" height="1"/><rect x="1122" y="64" width="2" height="2"/>
</g>
<polyline points="936.6,318.0 949.3,315.5 963.5,309.8 977.6,304.8 991.7,301.4 1005.8,298.5 1019.9,294.3 1034.0,288.7 1048.1,283.0 1060.0,278.8 1077.9,272.0 1085.3,268.1 1092.7,265.3 1100.1,262.0 1107.5,258.8 1115.0,255.7 1124.2,252.3" fill="none" stroke="#00ffff" stroke-width="3.5" clip-path="url(#cTop)" stroke-linejoin="round" shape-rendering="crispEdges" transform="translate(0,0.6)"/>
<path d="M1122 147h2v1h-2zM1120 148h2v1h-2zM1118 149h2v1h-2zM1116 150h2v1h-2zM1114 151h2v1h-2zM1112 152h2v1h-2zM1110 153h2v1h-2zM1108 154h2v1h-2zM1106 155h2v1h-2zM1105 156h1v1h-1zM1103 157h2v1h-2zM1101 158h2v1h-2zM1099 159h2v1h-2zM1098 160h1v1h-1zM1096 161h2v1h-2zM1094 162h2v1h-2zM1092 163h2v1h-2zM1090 164h2v1h-2zM1088 165h2v1h-2zM1086 166h2v1h-2zM1084 167h2v1h-2zM1082 168h2v1h-2zM1080 169h2v1h-2zM1078 170h2v1h-2zM1077 171h1v1h-1zM1075 172h2v1h-2zM1073 173h2v1h-2zM1071 174h2v1h-2zM1068 175h3v1h-3zM1066 176h2v1h-2zM1064 177h2v1h-2zM1062 178h2v1h-2zM1060 179h2v1h-2zM1058 180h2v1h-2zM1056 181h2v1h-2zM1054 182h2v1h-2zM1052 183h2v1h-2zM1050 184h2v1h-2zM1048 185h2v1h-2zM1046 186h2v1h-2zM1044 187h2v1h-2zM1042 188h2v1h-2zM1040 189h2v1h-2zM1037 190h3v1h-3zM1034 191h3v1h-3zM1032 192h2v1h-2zM1029 193h3v1h-3zM1026 194h3v1h-3zM1023 195h3v1h-3zM1020 196h3v1h-3zM1015 197h5v1h-5zM1005 198h10v1h-10zM994 199h11v1h-11zM984 200h10v1h-10zM979 201h5v1h-5zM975 202h4v1h-4zM972 203h3v1h-3zM970 204h2v1h-2zM968 205h2v1h-2zM965 206h3v1h-3zM963 207h2v1h-2zM961 208h2v1h-2zM958 209h3v1h-3zM955 210h3v1h-3zM951 211h4v1h-4zM947 212h4v1h-4zM943 213h4v1h-4zM938 214h5v1h-5zM935 215h3v1h-3zM933 216h2v1h-2zM931 217h2v1h-2zM929 218h2v1h-2zM928 219h1v1h-1zM926 220h2v1h-2zM924 221h2v1h-2zM922 222h2v1h-2zM921 223h1v1h-1zM919 224h2v1h-2zM918 225h1v1h-1zM917 226h1v1h-1zM915 227h2v1h-2zM914 228h1v1h-1zM912 229h2v1h-2zM911 230h1v1h-1zM909 231h2v1h-2zM908 232h1v1h-1zM907 233h1v1h-1zM905 234h2v1h-2zM904 235h1v1h-1zM902 236h2v1h-2zM901 237h1v1h-1zM899 238h2v1h-2zM898 239h1v1h-1zM896 240h2v1h-2zM894 241h2v1h-2zM893 242h1v1h-1zM891 243h2v1h-2zM890 244h1v1h-1zM888 245h2v1h-2zM887 246h1v1h-1zM885 247h2v1h-2zM883 248h2v1h-2zM882 249h1v1h-1zM880 250h2v1h-2zM878 251h2v1h-2zM876 252h2v1h-2zM875 253h1v1h-1zM873 254h2v1h-2zM871 255h2v1h-2zM870 256h1v1h-1zM869 257h1v1h-1zM867 258h2v1h-2zM866 259h1v1h-1zM865 260h1v1h-1zM864 261h1v1h-1zM863 262h1v1h-1zM861 263h2v1h-2zM860 264h1v1h-1zM859 265h1v1h-1zM858 266h1v1h-1zM857 267h1v1h-1zM855 268h2v1h-2zM854 269h1v1h-1zM853 270h1v1h-1zM851 271h2v1h-2zM850 272h1v1h-1zM848 273h2v1h-2zM846 274h2v1h-2zM845 275h1v1h-1zM844 276h1v1h-1zM843 277h1v1h-1zM842 278h1v1h-1zM840 279h2v1h-2zM839 280h1v1h-1zM838 281h1v1h-1zM837 282h1v1h-1zM835 283h2v1h-2zM833 284h2v1h-2zM832 285h1v1h-1zM830 286h2v1h-2zM828 287h2v1h-2zM827 288h1v1h-1zM825 289h2v1h-2zM823 290h2v1h-2zM821 291h2v1h-2zM819 292h2v1h-2zM817 293h2v1h-2zM815 294h2v1h-2zM814 295h1v1h-1zM813 296h1v1h-1zM811 297h2v1h-2zM810 298h1v1h-1zM808 299h2v1h-2zM807 300h1v1h-1zM806 301h1v1h-1zM804 302h2v1h-2zM803 303h1v1h-1zM801 304h2v1h-2zM800 305h1v1h-1zM799 306h1v1h-1zM797 307h2v1h-2zM796 308h1v1h-1zM794 309h2v1h-2zM793 310h1v1h-1zM792 311h1v1h-1zM790 312h2v1h-2zM789 313h1v1h-1zM787 314h2v1h-2zM786 315h1v1h-1zM785 316h1v1h-1zM783 317h2v1h-2z" fill="#ffffff" shape-rendering="crispEdges"/>
<path d="M1121 94h3v1h-3zM1117 95h4v1h-4zM1115 96h2v1h-2zM1113 97h2v1h-2zM1111 98h2v1h-2zM1110 99h1v1h-1zM1109 100h1v1h-1zM1108 101h1v1h-1zM1107 102h1v1h-1zM1106 103h1v1h-1zM1105 104h1v1h-1zM1104 105h1v1h-1zM1103 106h1v1h-1zM1102 107h1v1h-1zM1100 108h2v1h-2zM1099 109h1v1h-1zM1098 110h1v1h-1zM1096 111h2v1h-2zM1095 112h1v1h-1zM1094 113h1v1h-1zM1093 114h1v1h-1zM1091 115h2v1h-2zM1090 116h1v1h-1zM1089 117h1v1h-1zM1088 118h1v1h-1zM1087 119h1v1h-1zM1085 120h2v1h-2zM1084 121h1v1h-1zM1083 122h1v1h-1zM1081 123h2v1h-2zM1080 124h1v1h-1zM1079 125h1v1h-1zM1078 126h1v1h-1zM1077 127h1v1h-1zM1075 128h2v1h-2zM1074 129h1v1h-1zM1073 130h1v1h-1zM1072 131h1v1h-1zM1071 132h1v1h-1zM1070 133h1v1h-1zM1069 134h1v1h-1zM1068 135h1v1h-1zM1066 136h2v1h-2zM1064 137h2v1h-2zM1062 138h2v1h-2zM1060 139h2v1h-2zM1058 140h2v1h-2zM1056 141h2v1h-2zM1055 142h1v1h-1zM928 143h8v1h-8zM1053 143h2v1h-2zM926 144h2v1h-2zM936 144h2v1h-2zM1052 144h1v1h-1zM925 145h1v1h-1zM938 145h1v1h-1zM1051 145h1v1h-1zM924 146h1v1h-1zM939 146h1v1h-1zM973 146h6v1h-6zM1049 146h2v1h-2zM922 147h2v1h-2zM940 147h2v1h-2zM968 147h5v1h-5zM979 147h6v1h-6zM1048 147h1v1h-1zM921 148h1v1h-1zM942 148h3v1h-3zM956 148h12v1h-12zM985 148h2v1h-2zM1047 148h1v1h-1zM920 149h1v1h-1zM945 149h4v1h-4zM952 149h4v1h-4zM987 149h1v1h-1zM1045 149h2v1h-2zM919 150h1v1h-1zM949 150h3v1h-3zM987 150h1v1h-1zM1044 150h1v1h-1zM918 151h1v1h-1zM988 151h1v1h-1zM1043 151h1v1h-1zM917 152h1v1h-1zM989 152h1v1h-1zM1042 152h1v1h-1zM916 153h1v1h-1zM989 153h1v1h-1zM1041 153h1v1h-1zM915 154h1v1h-1zM990 154h1v1h-1zM1039 154h2v1h-2zM914 155h1v1h-1zM991 155h2v1h-2zM1036 155h3v1h-3zM913 156h1v1h-1zM993 156h1v1h-1zM1033 156h3v1h-3zM912 157h1v1h-1zM994 157h2v1h-2zM1029 157h4v1h-4zM911 158h1v1h-1zM996 158h1v1h-1zM1026 158h3v1h-3zM910 159h1v1h-1zM997 159h2v1h-2zM1023 159h3v1h-3zM909 160h1v1h-1zM999 160h2v1h-2zM1020 160h3v1h-3zM908 161h1v1h-1zM1001 161h19v1h-19zM907 162h1v1h-1zM906 163h1v1h-1zM905 164h1v1h-1zM903 165h2v1h-2zM902 166h1v1h-1zM901 167h1v1h-1zM900 168h1v1h-1zM898 169h2v1h-2zM897 170h1v1h-1zM895 171h2v1h-2zM894 172h1v1h-1zM893 173h1v1h-1zM892 174h1v1h-1zM890 175h2v1h-2zM889 176h1v1h-1zM888 177h1v1h-1zM887 178h1v1h-1zM885 179h2v1h-2zM883 180h2v1h-2zM881 181h2v1h-2zM880 182h1v1h-1zM878 183h2v1h-2zM877 184h1v1h-1zM875 185h2v1h-2zM873 186h2v1h-2zM872 187h1v1h-1zM870 188h2v1h-2zM868 189h2v1h-2zM866 190h2v1h-2zM864 191h2v1h-2zM862 192h2v1h-2zM860 193h2v1h-2zM858 194h2v1h-2zM857 195h1v1h-1zM856 196h1v1h-1zM855 197h1v1h-1zM854 198h1v1h-1zM853 199h1v1h-1zM851 200h2v1h-2zM850 201h1v1h-1zM848 202h2v1h-2zM847 203h1v1h-1zM846 204h1v1h-1zM845 205h1v1h-1zM844 206h1v1h-1zM843 207h1v1h-1zM842 208h1v1h-1zM841 209h1v1h-1zM840 210h1v1h-1zM838 211h2v1h-2zM836 212h2v1h-2zM835 213h1v1h-1zM834 214h1v1h-1zM832 215h2v1h-2zM831 216h1v1h-1zM830 217h1v1h-1zM829 218h1v1h-1zM828 219h1v1h-1zM827 220h1v1h-1zM825 221h2v1h-2zM824 222h1v1h-1zM823 223h1v1h-1zM822 224h1v1h-1zM821 225h1v1h-1zM819 226h2v1h-2zM817 227h2v1h-2zM815 228h2v1h-2zM813 229h2v1h-2zM811 230h2v1h-2zM810 231h1v1h-1zM808 232h2v1h-2zM807 233h1v1h-1zM806 234h1v1h-1zM805 235h1v1h-1zM804 236h1v1h-1zM803 237h1v1h-1zM802 238h1v1h-1zM801 239h1v1h-1zM800 240h1v1h-1zM799 241h1v1h-1zM798 242h1v1h-1zM797 243h1v1h-1zM795 244h2v1h-2zM794 245h1v1h-1zM793 246h1v1h-1zM792 247h1v1h-1zM791 248h1v1h-1zM791 249h1v1h-1zM790 250h1v1h-1zM790 251h1v1h-1zM789 252h1v1h-1zM789 253h1v1h-1zM788 254h1v1h-1zM786 255h2v1h-2zM784 256h2v1h-2zM783 257h1v1h-1zM782 258h1v1h-1zM780 259h2v1h-2zM779 260h1v1h-1zM778 261h1v1h-1zM777 262h1v1h-1zM776 263h1v1h-1zM776 264h1v1h-1zM775 265h1v1h-1zM774 266h1v1h-1zM773 267h1v1h-1zM773 268h1v1h-1zM772 269h1v1h-1zM771 270h1v1h-1zM769 271h2v1h-2zM767 272h2v1h-2zM765 273h2v1h-2zM764 274h1v1h-1zM763 275h1v1h-1zM762 276h1v1h-1zM760 277h2v1h-2zM759 278h1v1h-1zM758 279h1v1h-1zM757 280h1v1h-1zM755 281h2v1h-2zM754 282h1v1h-1zM753 283h1v1h-1zM751 284h2v1h-2zM750 285h1v1h-1zM748 286h2v1h-2zM746 287h2v1h-2zM744 288h2v1h-2zM742 289h2v1h-2zM740 290h2v1h-2zM739 291h1v1h-1zM737 292h2v1h-2zM736 293h1v1h-1zM734 294h2v1h-2zM733 295h1v1h-1zM731 296h2v1h-2zM729 297h2v1h-2zM728 298h1v1h-1zM726 299h2v1h-2zM724 300h2v1h-2zM722 301h2v1h-2zM720 302h2v1h-2zM718 303h2v1h-2zM717 304h1v1h-1zM715 305h2v1h-2zM713 306h2v1h-2zM711 307h2v1h-2zM709 308h2v1h-2zM708 309h1v1h-1zM707 310h1v1h-1zM706 311h1v1h-1zM705 312h1v1h-1zM704 313h1v1h-1zM704 314h1v1h-1zM703 315h1v1h-1zM702 316h1v1h-1zM701 317h1v1h-1z" fill="#ff0000" shape-rendering="crispEdges"/>
<polyline points="692.6,318.0 700.3,311.8 707.4,305.4 714.4,298.3 719.5,295.0 729.4,287.8 736.4,284.3 743.5,280.0 750.6,275.1 757.6,270.2 764.7,264.5 771.7,259.6 778.8,254.6 785.8,249.7 792.9,243.3 800.0,236.3 807.5,230.3 812.7,225.0 816.4,222.1 823.5,217.9 830.6,210.8 837.6,202.3 844.7,195.3 851.7,188.2 858.8,182.6 865.8,179.1 872.9,175.5 880.0,169.9 887.0,167.1 894.1,164.2 900.3,159.7 907.6,152.3 914.7,146.0 921.7,140.3 928.8,136.1 934.4,135.4 941.5,135.4 947.1,137.5 954.2,137.5 959.8,135.4 970.0,135.4 980.0,135.6 985.0,137.0 990.6,140.0 996.2,145.6 1001.9,150.6 1007.5,154.8 1013.1,158.3 1018.8,161.2 1024.4,162.3 1031.5,162.3 1035.6,158.8 1040.1,156.3 1045.2,154.2 1050.3,153.0 1052.3,151.7 1054.3,150.0 1060.4,149.7 1063.0,147.9 1065.5,146.4 1069.8,144.9 1073.6,140.8 1076.7,137.8 1079.7,134.4 1086.0,124.0 1092.0,116.0 1097.7,110.0 1103.4,104.9 1109.0,99.3 1114.7,92.9 1120.3,88.0 1123.4,85.9" fill="none" stroke="#ff80ff" stroke-width="2.6" clip-path="url(#cTop)" stroke-linejoin="round" shape-rendering="crispEdges" transform="translate(0,0.3)"/>
<path d="M1116 70h3v1h-3zM1114 71h2v1h-2zM1119 71h2v1h-2zM1112 72h2v1h-2zM1121 72h2v1h-2zM1111 73h1v1h-1zM1123 73h1v1h-1zM1110 74h1v1h-1zM1109 75h1v1h-1zM1108 76h1v1h-1zM1107 77h1v1h-1zM1107 78h1v1h-1zM1106 79h1v1h-1zM1106 80h1v1h-1zM1104 81h2v1h-2zM1102 82h2v1h-2zM1099 83h3v1h-3zM1097 84h2v1h-2zM1096 85h1v1h-1zM1095 86h1v1h-1zM1094 87h1v1h-1zM1093 88h1v1h-1zM1092 89h1v1h-1zM1091 90h1v1h-1zM1090 91h1v1h-1zM1089 92h1v1h-1zM1088 93h1v1h-1zM1087 94h1v1h-1zM1085 95h2v1h-2zM1083 96h2v1h-2zM1082 97h1v1h-1zM1081 98h1v1h-1zM1081 99h1v1h-1zM1080 100h1v1h-1zM1080 101h1v1h-1zM1079 102h1v1h-1zM1078 103h1v1h-1zM1077 104h1v1h-1zM1077 105h1v1h-1zM1076 106h1v1h-1zM1075 107h1v1h-1zM1074 108h1v1h-1zM1073 109h1v1h-1zM1073 110h1v1h-1zM1072 111h1v1h-1zM1071 112h1v1h-1zM1070 113h1v1h-1zM1070 114h1v1h-1zM1069 115h1v1h-1zM1068 116h1v1h-1zM927 117h3v1h-3zM1067 117h1v1h-1zM926 118h1v1h-1zM930 118h3v1h-3zM1066 118h1v1h-1zM925 119h1v1h-1zM933 119h2v1h-2zM1066 119h1v1h-1zM924 120h1v1h-1zM935 120h1v1h-1zM1065 120h1v1h-1zM923 121h1v1h-1zM936 121h1v1h-1zM1064 121h1v1h-1zM922 122h1v1h-1zM937 122h1v1h-1zM1062 122h2v1h-2zM921 123h1v1h-1zM937 123h1v1h-1zM1060 123h2v1h-2zM919 124h2v1h-2zM938 124h1v1h-1zM1058 124h2v1h-2zM918 125h1v1h-1zM939 125h1v1h-1zM1056 125h2v1h-2zM917 126h1v1h-1zM940 126h1v1h-1zM1055 126h1v1h-1zM916 127h1v1h-1zM940 127h1v1h-1zM1054 127h1v1h-1zM915 128h1v1h-1zM941 128h1v1h-1zM1054 128h1v1h-1zM914 129h1v1h-1zM941 129h1v1h-1zM1053 129h1v1h-1zM913 130h1v1h-1zM941 130h1v1h-1zM1052 130h1v1h-1zM912 131h1v1h-1zM942 131h1v1h-1zM1051 131h1v1h-1zM911 132h1v1h-1zM942 132h1v1h-1zM1051 132h1v1h-1zM910 133h1v1h-1zM942 133h1v1h-1zM1050 133h1v1h-1zM909 134h1v1h-1zM943 134h1v1h-1zM1049 134h1v1h-1zM908 135h1v1h-1zM943 135h1v1h-1zM1049 135h1v1h-1zM908 136h1v1h-1zM943 136h1v1h-1zM1048 136h1v1h-1zM907 137h1v1h-1zM943 137h1v1h-1zM1048 137h1v1h-1zM906 138h1v1h-1zM944 138h1v1h-1zM1047 138h1v1h-1zM905 139h1v1h-1zM944 139h1v1h-1zM1047 139h1v1h-1zM904 140h1v1h-1zM944 140h1v1h-1zM1046 140h1v1h-1zM902 141h2v1h-2zM944 141h1v1h-1zM975 141h2v1h-2zM1045 141h1v1h-1zM901 142h1v1h-1zM945 142h1v1h-1zM972 142h3v1h-3zM977 142h2v1h-2zM1045 142h1v1h-1zM900 143h1v1h-1zM945 143h1v1h-1zM969 143h3v1h-3zM979 143h1v1h-1zM1044 143h1v1h-1zM899 144h1v1h-1zM946 144h1v1h-1zM966 144h3v1h-3zM980 144h1v1h-1zM1043 144h1v1h-1zM898 145h1v1h-1zM947 145h1v1h-1zM963 145h3v1h-3zM981 145h1v1h-1zM1043 145h1v1h-1zM897 146h1v1h-1zM948 146h1v1h-1zM959 146h4v1h-4zM982 146h1v1h-1zM1042 146h1v1h-1zM896 147h1v1h-1zM949 147h1v1h-1zM954 147h5v1h-5zM982 147h1v1h-1zM1042 147h1v1h-1zM895 148h1v1h-1zM950 148h4v1h-4zM983 148h1v1h-1zM1041 148h1v1h-1zM894 149h1v1h-1zM984 149h1v1h-1zM1040 149h1v1h-1zM893 150h1v1h-1zM985 150h1v1h-1zM1039 150h1v1h-1zM891 151h2v1h-2zM986 151h2v1h-2zM1038 151h1v1h-1zM890 152h1v1h-1zM988 152h1v1h-1zM1037 152h1v1h-1zM889 153h1v1h-1zM989 153h1v1h-1zM1036 153h1v1h-1zM887 154h2v1h-2zM990 154h1v1h-1zM1035 154h1v1h-1zM886 155h1v1h-1zM990 155h1v1h-1zM1034 155h1v1h-1zM885 156h1v1h-1zM991 156h1v1h-1zM1032 156h2v1h-2zM884 157h1v1h-1zM992 157h1v1h-1zM1031 157h1v1h-1zM882 158h2v1h-2zM992 158h1v1h-1zM1030 158h1v1h-1zM881 159h1v1h-1zM993 159h1v1h-1zM1028 159h2v1h-2zM880 160h1v1h-1zM993 160h1v1h-1zM1027 160h1v1h-1zM878 161h2v1h-2zM994 161h1v1h-1zM1025 161h2v1h-2zM876 162h2v1h-2zM994 162h1v1h-1zM1024 162h1v1h-1zM874 163h2v1h-2zM994 163h1v1h-1zM1023 163h1v1h-1zM869 164h5v1h-5zM995 164h1v1h-1zM1022 164h1v1h-1zM863 165h6v1h-6zM995 165h1v1h-1zM1021 165h1v1h-1zM860 166h3v1h-3zM995 166h1v1h-1zM1020 166h1v1h-1zM858 167h2v1h-2zM996 167h1v1h-1zM1019 167h1v1h-1zM856 168h2v1h-2zM996 168h1v1h-1zM1018 168h1v1h-1zM855 169h1v1h-1zM997 169h1v1h-1zM1016 169h2v1h-2zM853 170h2v1h-2zM998 170h1v1h-1zM1014 170h2v1h-2zM851 171h2v1h-2zM998 171h1v1h-1zM1012 171h2v1h-2zM850 172h1v1h-1zM999 172h1v1h-1zM1009 172h3v1h-3zM849 173h1v1h-1zM1000 173h1v1h-1zM1005 173h4v1h-4zM848 174h1v1h-1zM1001 174h4v1h-4zM847 175h1v1h-1zM846 176h1v1h-1zM845 177h1v1h-1zM844 178h1v1h-1zM843 179h1v1h-1zM842 180h1v1h-1zM841 181h1v1h-1zM840 182h1v1h-1zM839 183h1v1h-1zM838 184h1v1h-1zM837 185h1v1h-1zM836 186h1v1h-1zM834 187h2v1h-2zM833 188h1v1h-1zM832 189h1v1h-1zM831 190h1v1h-1zM831 191h1v1h-1zM830 192h1v1h-1zM829 193h1v1h-1zM828 194h1v1h-1zM827 195h1v1h-1zM826 196h1v1h-1zM825 197h1v1h-1zM824 198h1v1h-1zM818 199h6v1h-6zM812 200h6v1h-6zM810 201h2v1h-2zM808 202h2v1h-2zM807 203h1v1h-1zM805 204h2v1h-2zM803 205h2v1h-2zM802 206h1v1h-1zM801 207h1v1h-1zM801 208h1v1h-1zM800 209h1v1h-1zM799 210h1v1h-1zM798 211h1v1h-1zM798 212h1v1h-1zM797 213h1v1h-1zM796 214h1v1h-1zM796 215h1v1h-1zM795 216h1v1h-1zM794 217h1v1h-1zM793 218h1v1h-1zM793 219h1v1h-1zM792 220h1v1h-1zM791 221h1v1h-1zM790 222h1v1h-1zM790 223h1v1h-1zM789 224h1v1h-1zM787 225h2v1h-2zM785 226h2v1h-2zM783 227h2v1h-2zM782 228h1v1h-1zM781 229h1v1h-1zM780 230h1v1h-1zM780 231h1v1h-1zM779 232h1v1h-1zM778 233h1v1h-1zM777 234h1v1h-1zM777 235h1v1h-1zM776 236h1v1h-1zM775 237h1v1h-1zM775 238h1v1h-1zM774 239h1v1h-1zM774 240h1v1h-1zM773 241h1v1h-1zM772 242h1v1h-1zM772 243h1v1h-1zM771 244h1v1h-1zM770 245h1v1h-1zM769 246h1v1h-1zM768 247h1v1h-1zM767 248h1v1h-1zM767 249h1v1h-1zM766 250h1v1h-1zM765 251h1v1h-1zM764 252h1v1h-1zM763 253h1v1h-1zM762 254h1v1h-1zM760 255h2v1h-2zM759 256h1v1h-1zM758 257h1v1h-1zM756 258h2v1h-2zM754 259h2v1h-2zM752 260h2v1h-2zM750 261h2v1h-2zM749 262h1v1h-1zM748 263h1v1h-1zM747 264h1v1h-1zM745 265h2v1h-2zM744 266h1v1h-1zM743 267h1v1h-1zM741 268h2v1h-2zM738 269h3v1h-3zM735 270h3v1h-3zM733 271h2v1h-2zM731 272h2v1h-2zM728 273h3v1h-3zM726 274h2v1h-2zM724 275h2v1h-2zM722 276h2v1h-2zM718 277h4v1h-4zM715 278h3v1h-3zM714 279h1v1h-1zM713 280h1v1h-1zM711 281h2v1h-2zM710 282h1v1h-1zM709 283h1v1h-1zM708 284h1v1h-1zM707 285h1v1h-1zM705 286h2v1h-2zM704 287h1v1h-1zM703 288h1v1h-1zM702 289h1v1h-1zM701 290h1v1h-1zM700 291h1v1h-1zM699 292h1v1h-1zM698 293h1v1h-1zM697 294h1v1h-1zM696 295h1v1h-1zM695 296h1v1h-1zM694 297h1v1h-1zM693 298h1v1h-1zM692 299h1v1h-1zM691 300h1v1h-1zM690 301h1v1h-1zM689 302h1v1h-1zM688 303h1v1h-1zM687 304h1v1h-1zM685 305h2v1h-2zM684 306h1v1h-1zM683 307h1v1h-1zM682 308h1v1h-1zM681 309h1v1h-1zM679 310h2v1h-2zM678 311h1v1h-1zM677 312h1v1h-1zM676 313h1v1h-1zM675 314h1v1h-1zM674 315h1v1h-1zM672 316h2v1h-2zM671 317h1v1h-1z" fill="#ffff00" shape-rendering="crispEdges"/>
<path d="M1114 61h5v1h-5zM1112 62h2v1h-2zM1119 62h1v1h-1zM1111 63h1v1h-1zM1119 63h1v1h-1zM1110 64h1v1h-1zM1120 64h1v1h-1zM1109 65h1v1h-1zM1121 65h1v1h-1zM1108 66h1v1h-1zM1121 66h1v1h-1zM1108 67h1v1h-1zM1122 67h1v1h-1zM1107 68h1v1h-1zM1122 68h1v1h-1zM1107 69h1v1h-1zM1123 69h1v1h-1zM1106 70h1v1h-1zM1105 71h1v1h-1zM1104 72h1v1h-1zM1103 73h1v1h-1zM1095 74h8v1h-8zM1094 75h1v1h-1zM1093 76h1v1h-1zM1092 77h1v1h-1zM1090 78h2v1h-2zM1089 79h1v1h-1zM1088 80h1v1h-1zM1088 81h1v1h-1zM1086 82h2v1h-2zM1083 83h3v1h-3zM1081 84h2v1h-2zM1080 85h1v1h-1zM1080 86h1v1h-1zM1079 87h1v1h-1zM1079 88h1v1h-1zM1078 89h1v1h-1zM1077 90h1v1h-1zM1077 91h1v1h-1zM1076 92h1v1h-1zM1076 93h1v1h-1zM1075 94h1v1h-1zM1074 95h1v1h-1zM1073 96h1v1h-1zM1073 97h1v1h-1zM1072 98h1v1h-1zM1071 99h1v1h-1zM1071 100h1v1h-1zM1070 101h1v1h-1zM1070 102h1v1h-1zM1069 103h1v1h-1zM1069 104h1v1h-1zM1068 105h1v1h-1zM928 106h1v1h-1zM1068 106h1v1h-1zM927 107h1v1h-1zM929 107h1v1h-1zM1067 107h1v1h-1zM925 108h2v1h-2zM929 108h1v1h-1zM1065 108h2v1h-2zM924 109h1v1h-1zM930 109h1v1h-1zM1063 109h2v1h-2zM923 110h1v1h-1zM931 110h1v1h-1zM1059 110h4v1h-4zM922 111h1v1h-1zM932 111h1v1h-1zM1057 111h2v1h-2zM921 112h1v1h-1zM932 112h1v1h-1zM1056 112h1v1h-1zM920 113h1v1h-1zM933 113h1v1h-1zM1054 113h2v1h-2zM920 114h1v1h-1zM933 114h1v1h-1zM1053 114h1v1h-1zM919 115h1v1h-1zM934 115h1v1h-1zM1052 115h1v1h-1zM918 116h1v1h-1zM935 116h1v1h-1zM1051 116h1v1h-1zM917 117h1v1h-1zM935 117h1v1h-1zM1051 117h1v1h-1zM916 118h1v1h-1zM936 118h1v1h-1zM1050 118h1v1h-1zM915 119h1v1h-1zM936 119h1v1h-1zM1050 119h1v1h-1zM913 120h2v1h-2zM937 120h1v1h-1zM1049 120h1v1h-1zM912 121h1v1h-1zM937 121h1v1h-1zM1049 121h1v1h-1zM911 122h1v1h-1zM938 122h1v1h-1zM1048 122h1v1h-1zM910 123h1v1h-1zM938 123h1v1h-1zM1048 123h1v1h-1zM909 124h1v1h-1zM938 124h1v1h-1zM1047 124h1v1h-1zM908 125h1v1h-1zM939 125h1v1h-1zM1047 125h1v1h-1zM908 126h1v1h-1zM939 126h1v1h-1zM1046 126h1v1h-1zM907 127h1v1h-1zM940 127h1v1h-1zM1046 127h1v1h-1zM906 128h1v1h-1zM940 128h1v1h-1zM1045 128h1v1h-1zM905 129h1v1h-1zM940 129h1v1h-1zM1045 129h1v1h-1zM904 130h1v1h-1zM940 130h1v1h-1zM1044 130h1v1h-1zM903 131h1v1h-1zM941 131h1v1h-1zM1044 131h1v1h-1zM902 132h1v1h-1zM941 132h1v1h-1zM1043 132h1v1h-1zM901 133h1v1h-1zM941 133h1v1h-1zM1043 133h1v1h-1zM900 134h1v1h-1zM941 134h1v1h-1zM1042 134h1v1h-1zM899 135h1v1h-1zM942 135h1v1h-1zM1042 135h1v1h-1zM898 136h1v1h-1zM942 136h1v1h-1zM1041 136h1v1h-1zM897 137h1v1h-1zM942 137h1v1h-1zM1041 137h1v1h-1zM897 138h1v1h-1zM942 138h1v1h-1zM1040 138h1v1h-1zM896 139h1v1h-1zM943 139h1v1h-1zM1039 139h1v1h-1zM895 140h1v1h-1zM943 140h1v1h-1zM1039 140h1v1h-1zM894 141h1v1h-1zM943 141h1v1h-1zM972 141h4v1h-4zM1038 141h1v1h-1zM893 142h1v1h-1zM943 142h1v1h-1zM970 142h2v1h-2zM976 142h2v1h-2zM1037 142h1v1h-1zM892 143h1v1h-1zM944 143h1v1h-1zM969 143h1v1h-1zM978 143h1v1h-1zM1037 143h1v1h-1zM891 144h1v1h-1zM944 144h1v1h-1zM967 144h2v1h-2zM979 144h1v1h-1zM1036 144h1v1h-1zM890 145h1v1h-1zM944 145h1v1h-1zM966 145h1v1h-1zM980 145h1v1h-1zM1035 145h1v1h-1zM889 146h1v1h-1zM944 146h1v1h-1zM965 146h1v1h-1zM981 146h1v1h-1zM1035 146h1v1h-1zM888 147h1v1h-1zM944 147h1v1h-1zM963 147h2v1h-2zM982 147h1v1h-1zM1034 147h1v1h-1zM887 148h1v1h-1zM944 148h1v1h-1zM962 148h1v1h-1zM983 148h1v1h-1zM1032 148h2v1h-2zM886 149h1v1h-1zM945 149h1v1h-1zM960 149h2v1h-2zM984 149h1v1h-1zM1031 149h1v1h-1zM885 150h1v1h-1zM945 150h1v1h-1zM958 150h2v1h-2zM984 150h1v1h-1zM1029 150h2v1h-2zM884 151h1v1h-1zM945 151h1v1h-1zM957 151h1v1h-1zM985 151h1v1h-1zM1028 151h1v1h-1zM882 152h2v1h-2zM945 152h1v1h-1zM957 152h1v1h-1zM986 152h1v1h-1zM1027 152h1v1h-1zM880 153h2v1h-2zM945 153h1v1h-1zM956 153h1v1h-1zM986 153h1v1h-1zM1027 153h1v1h-1zM878 154h2v1h-2zM945 154h1v1h-1zM956 154h1v1h-1zM987 154h1v1h-1zM1026 154h1v1h-1zM876 155h2v1h-2zM945 155h1v1h-1zM955 155h1v1h-1zM987 155h1v1h-1zM1026 155h1v1h-1zM875 156h1v1h-1zM946 156h1v1h-1zM955 156h1v1h-1zM988 156h1v1h-1zM1025 156h1v1h-1zM874 157h1v1h-1zM946 157h1v1h-1zM954 157h1v1h-1zM988 157h1v1h-1zM1025 157h1v1h-1zM872 158h2v1h-2zM946 158h1v1h-1zM954 158h1v1h-1zM989 158h1v1h-1zM1024 158h1v1h-1zM856 159h12v1h-12zM871 159h1v1h-1zM946 159h1v1h-1zM953 159h1v1h-1zM989 159h1v1h-1zM1024 159h1v1h-1zM852 160h4v1h-4zM868 160h3v1h-3zM947 160h2v1h-2zM952 160h1v1h-1zM990 160h1v1h-1zM1023 160h1v1h-1zM850 161h2v1h-2zM949 161h2v1h-2zM952 161h1v1h-1zM990 161h1v1h-1zM1023 161h1v1h-1zM849 162h1v1h-1zM951 162h1v1h-1zM990 162h1v1h-1zM1022 162h1v1h-1zM848 163h1v1h-1zM990 163h1v1h-1zM1022 163h1v1h-1zM848 164h1v1h-1zM991 164h1v1h-1zM1021 164h1v1h-1zM847 165h1v1h-1zM991 165h1v1h-1zM1021 165h1v1h-1zM846 166h1v1h-1zM991 166h1v1h-1zM1020 166h1v1h-1zM845 167h1v1h-1zM992 167h1v1h-1zM1020 167h1v1h-1zM845 168h1v1h-1zM992 168h1v1h-1zM1019 168h1v1h-1zM844 169h1v1h-1zM992 169h1v1h-1zM1018 169h1v1h-1zM843 170h1v1h-1zM992 170h1v1h-1zM1018 170h1v1h-1zM842 171h1v1h-1zM993 171h1v1h-1zM1017 171h1v1h-1zM841 172h1v1h-1zM993 172h1v1h-1zM1016 172h1v1h-1zM840 173h1v1h-1zM993 173h1v1h-1zM1015 173h1v1h-1zM839 174h1v1h-1zM993 174h1v1h-1zM1013 174h2v1h-2zM838 175h1v1h-1zM993 175h1v1h-1zM1012 175h1v1h-1zM837 176h1v1h-1zM994 176h1v1h-1zM1011 176h1v1h-1zM836 177h1v1h-1zM994 177h1v1h-1zM1010 177h1v1h-1zM835 178h1v1h-1zM994 178h1v1h-1zM1009 178h1v1h-1zM834 179h1v1h-1zM995 179h1v1h-1zM1008 179h1v1h-1zM833 180h1v1h-1zM995 180h1v1h-1zM1007 180h1v1h-1zM832 181h1v1h-1zM996 181h1v1h-1zM1006 181h1v1h-1zM832 182h1v1h-1zM996 182h1v1h-1zM1006 182h1v1h-1zM831 183h1v1h-1zM997 183h1v1h-1zM1005 183h1v1h-1zM831 184h1v1h-1zM998 184h1v1h-1zM1005 184h1v1h-1zM830 185h1v1h-1zM999 185h1v1h-1zM1004 185h1v1h-1zM830 186h1v1h-1zM999 186h1v1h-1zM1003 186h1v1h-1zM829 187h1v1h-1zM1000 187h1v1h-1zM1002 187h1v1h-1zM829 188h1v1h-1zM1001 188h1v1h-1zM828 189h1v1h-1zM828 190h1v1h-1zM805 191h13v1h-13zM827 191h1v1h-1zM800 192h5v1h-5zM818 192h3v1h-3zM827 192h1v1h-1zM799 193h1v1h-1zM821 193h2v1h-2zM826 193h1v1h-1zM798 194h1v1h-1zM822 194h1v1h-1zM826 194h1v1h-1zM797 195h1v1h-1zM823 195h1v1h-1zM825 195h1v1h-1zM796 196h1v1h-1zM823 196h1v1h-1zM825 196h1v1h-1zM796 197h1v1h-1zM824 197h1v1h-1zM795 198h1v1h-1zM824 198h1v1h-1zM794 199h1v1h-1zM793 200h1v1h-1zM793 201h1v1h-1zM792 202h1v1h-1zM792 203h1v1h-1zM791 204h1v1h-1zM791 205h1v1h-1zM790 206h1v1h-1zM790 207h1v1h-1zM790 208h1v1h-1zM789 209h1v1h-1zM789 210h1v1h-1zM788 211h1v1h-1zM787 212h2v1h-2zM785 213h2v1h-2zM783 214h2v1h-2zM782 215h1v1h-1zM782 216h1v1h-1zM781 217h1v1h-1zM780 218h1v1h-1zM780 219h1v1h-1zM779 220h1v1h-1zM779 221h1v1h-1zM778 222h1v1h-1zM777 223h1v1h-1zM777 224h1v1h-1zM776 225h1v1h-1zM776 226h1v1h-1zM775 227h1v1h-1zM775 228h1v1h-1zM774 229h1v1h-1zM774 230h1v1h-1zM773 231h1v1h-1zM773 232h1v1h-1zM772 233h1v1h-1zM772 234h1v1h-1zM771 235h1v1h-1zM771 236h1v1h-1zM771 237h1v1h-1zM770 238h1v1h-1zM770 239h1v1h-1zM769 240h1v1h-1zM768 241h1v1h-1zM767 242h1v1h-1zM767 243h1v1h-1zM766 244h1v1h-1zM765 245h1v1h-1zM764 246h1v1h-1zM763 247h1v1h-1zM762 248h1v1h-1zM760 249h2v1h-2zM759 250h1v1h-1zM758 251h1v1h-1zM756 252h2v1h-2zM754 253h2v1h-2zM752 254h2v1h-2zM750 255h2v1h-2zM749 256h1v1h-1zM748 257h1v1h-1zM747 258h1v1h-1zM746 259h1v1h-1zM746 260h1v1h-1zM745 261h1v1h-1zM744 262h1v1h-1zM743 263h1v1h-1zM740 264h3v1h-3zM732 265h8v1h-8zM730 266h2v1h-2zM729 267h1v1h-1zM715 268h1v1h-1zM727 268h2v1h-2zM713 269h2v1h-2zM716 269h2v1h-2zM723 269h4v1h-4zM712 270h1v1h-1zM718 270h5v1h-5zM711 271h1v1h-1zM709 272h2v1h-2zM708 273h1v1h-1zM707 274h1v1h-1zM706 275h1v1h-1zM704 276h2v1h-2zM703 277h1v1h-1zM702 278h1v1h-1zM701 279h1v1h-1zM700 280h1v1h-1zM699 281h1v1h-1zM698 282h1v1h-1zM697 283h1v1h-1zM697 284h1v1h-1zM696 285h1v1h-1zM695 286h1v1h-1zM694 287h1v1h-1zM693 288h1v1h-1zM693 289h1v1h-1zM692 290h1v1h-1zM691 291h1v1h-1zM691 292h1v1h-1zM690 293h1v1h-1zM690 294h1v1h-1zM689 295h1v1h-1zM687 296h2v1h-2zM685 297h2v1h-2zM683 298h2v1h-2zM682 299h1v1h-1zM682 300h1v1h-1zM681 301h1v1h-1zM681 302h1v1h-1zM680 303h1v1h-1zM680 304h1v1h-1zM678 305h2v1h-2zM675 306h3v1h-3zM672 307h3v1h-3zM667 308h5v1h-5zM663 309h4v1h-4zM662 310h1v1h-1zM661 311h1v1h-1zM660 312h1v1h-1zM659 313h1v1h-1zM658 314h1v1h-1zM657 315h1v1h-1zM656 316h1v1h-1zM655 317h1v1h-1z" fill="#9bff00" shape-rendering="crispEdges"/>
<g clip-path="url(#cMk)">
<g shape-rendering="crispEdges">
<rect x="724" y="246" width="1" height="15" fill="#ff0000"/>
<rect x="717" y="230" width="14" height="15" fill="#ff0000"/>
<rect x="819" y="161" width="1" height="13" fill="#ff0000"/>
<rect x="812" y="145" width="14" height="15" fill="#ff0000"/>
<rect x="860" y="123" width="1" height="15" fill="#ff0000"/>
<rect x="853" y="107" width="14" height="15" fill="#ff0000"/>
<rect x="933" y="68" width="1" height="15" fill="#ff0000"/>
<rect x="926" y="52" width="14" height="15" fill="#ff0000"/>
<rect x="1123" y="42" width="1" height="15" fill="#ff0000"/>
<rect x="1116" y="26" width="14" height="15" fill="#ff0000"/>
<rect x="770" y="244" width="1" height="30" fill="#9bff00"/>
<rect x="763" y="274" width="14" height="15" fill="#7fff00"/>
<rect x="847" y="174" width="1" height="30" fill="#9bff00"/>
<rect x="840" y="204" width="14" height="15" fill="#7fff00"/>
<rect x="906" y="130" width="1" height="30" fill="#9bff00"/>
<rect x="899" y="160" width="14" height="15" fill="#7fff00"/>
<rect x="1023" y="167" width="1" height="30" fill="#9bff00"/>
<rect x="1016" y="197" width="14" height="15" fill="#7fff00"/>
</g>
<g font-family="'Liberation Sans',Arial,sans-serif" font-size="11" text-anchor="middle">
<text x="723.2" y="240.8" fill="#5ef" font-size="10.5">S</text>
<text x="818.2" y="155.8" fill="#5ef" font-size="10.5">S</text>
<text x="859.2" y="117.8" fill="#5ef" font-size="10.5">S</text>
<text x="932.2" y="62.8" fill="#5ef" font-size="10.5">S</text>
<text x="1122.2" y="36.8" fill="#5ef" font-size="10.5">S</text>
<text x="769.2" y="284.8" fill="#7d14f2" font-size="10.5">B</text>
<text x="846.2" y="214.8" fill="#7d14f2" font-size="10.5">B</text>
<text x="905.2" y="170.8" fill="#7d14f2" font-size="10.5">B</text>
<text x="1022.2" y="207.8" fill="#7d14f2" font-size="10.5">B</text>
</g>
</g>
<path d="M639 317h1v1h-1zM640 315h1v1h-1zM641 313h1v1h-1zM643 311h1v1h-1zM645 309h1v1h-1zM647 307h1v1h-1zM649 305h1v1h-1zM650 303h1v1h-1zM652 301h1v1h-1zM653 299h1v1h-1zM654 297h1v1h-1zM655 295h1v1h-1zM657 293h1v1h-1zM659 291h1v1h-1zM661 290h1v1h-1zM663 288h1v1h-1zM665 287h1v1h-1zM667 286h1v1h-1zM669 285h1v1h-1zM671 285h1v1h-1zM673 284h1v1h-1zM675 284h1v1h-1zM677 283h1v1h-1zM679 283h1v1h-1zM681 282h1v1h-1zM683 281h1v1h-1zM685 279h1v1h-1zM687 278h1v1h-1zM689 276h1v1h-1zM691 275h1v1h-1zM693 273h1v1h-1zM695 271h1v1h-1zM697 269h1v1h-1zM698 267h1v1h-1zM700 265h1v1h-1zM702 263h1v1h-1zM704 261h1v1h-1zM706 260h1v1h-1zM708 258h1v1h-1zM710 256h1v1h-1zM712 255h1v1h-1zM714 253h1v1h-1zM716 253h1v1h-1zM718 252h1v1h-1zM720 252h1v1h-1zM722 251h1v1h-1zM724 250h1v1h-1zM726 249h1v1h-1zM728 248h1v1h-1zM730 247h1v1h-1zM732 246h1v1h-1zM734 246h1v1h-1zM736 246h1v1h-1zM738 246h1v1h-1zM740 246h1v1h-1zM742 246h1v1h-1zM744 245h1v1h-1zM746 243h1v1h-1zM748 242h1v1h-1zM750 241h1v1h-1zM752 240h1v1h-1zM754 239h1v1h-1zM756 238h1v1h-1zM758 238h1v1h-1zM760 237h1v1h-1zM762 237h1v1h-1zM764 235h1v1h-1zM766 233h1v1h-1zM767 231h1v1h-1zM768 229h1v1h-1zM769 227h1v1h-1zM770 225h1v1h-1zM771 223h1v1h-1zM772 221h1v1h-1zM773 219h1v1h-1zM774 217h1v1h-1zM776 215h1v1h-1zM777 213h1v1h-1zM778 211h1v1h-1zM779 209h1v1h-1zM780 207h1v1h-1zM781 205h1v1h-1zM782 203h1v1h-1zM783 201h1v1h-1zM785 199h1v1h-1zM786 197h1v1h-1zM787 195h1v1h-1zM788 193h1v1h-1zM789 191h1v1h-1zM791 189h1v1h-1zM792 187h1v1h-1zM794 185h1v1h-1zM796 183h1v1h-1zM797 181h1v1h-1zM799 179h1v1h-1zM800 177h1v1h-1zM801 175h1v1h-1zM802 173h1v1h-1zM804 171h1v1h-1zM806 169h1v1h-1zM808 167h1v1h-1zM810 166h1v1h-1zM812 165h1v1h-1zM814 164h1v1h-1zM816 163h1v1h-1zM818 162h1v1h-1zM820 161h1v1h-1zM822 161h1v1h-1zM824 160h1v1h-1zM826 160h1v1h-1zM828 159h1v1h-1zM830 157h1v1h-1zM832 155h1v1h-1zM834 154h1v1h-1zM836 152h1v1h-1zM838 151h1v1h-1zM840 150h1v1h-1zM842 150h1v1h-1zM844 149h1v1h-1zM846 148h1v1h-1zM848 148h1v1h-1zM850 147h1v1h-1zM852 146h1v1h-1zM854 145h1v1h-1zM856 144h1v1h-1zM858 143h1v1h-1zM860 143h1v1h-1zM862 142h1v1h-1zM864 142h1v1h-1zM866 142h1v1h-1zM868 141h1v1h-1zM870 141h1v1h-1zM872 140h1v1h-1zM874 139h1v1h-1zM876 139h1v1h-1zM878 138h1v1h-1zM880 137h1v1h-1zM882 137h1v1h-1zM884 136h1v1h-1zM886 134h1v1h-1zM888 132h1v1h-1zM890 130h1v1h-1zM892 128h1v1h-1zM894 126h1v1h-1zM896 124h1v1h-1zM898 123h1v1h-1zM900 121h1v1h-1zM902 119h1v1h-1zM903 117h1v1h-1zM905 115h1v1h-1zM907 113h1v1h-1zM908 111h1v1h-1zM910 110h1v1h-1zM912 109h1v1h-1zM914 109h1v1h-1zM916 107h1v1h-1zM918 106h1v1h-1zM920 104h1v1h-1zM921 102h1v1h-1zM922 100h1v1h-1zM923 98h1v1h-1zM925 96h1v1h-1zM927 94h1v1h-1zM929 93h1v1h-1zM931 93h1v1h-1zM933 93h1v1h-1zM935 93h1v1h-1zM937 93h1v1h-1zM939 93h1v1h-1zM941 93h1v1h-1zM943 92h1v1h-1zM944 90h1v1h-1zM945 88h1v1h-1zM946 86h1v1h-1zM948 85h1v1h-1zM950 84h1v1h-1zM952 84h1v1h-1zM954 84h1v1h-1zM956 84h1v1h-1zM958 85h1v1h-1zM960 86h1v1h-1zM962 86h1v1h-1zM964 85h1v1h-1zM966 85h1v1h-1zM968 85h1v1h-1zM970 85h1v1h-1zM972 85h1v1h-1zM974 85h1v1h-1zM976 85h1v1h-1zM978 85h1v1h-1zM980 84h1v1h-1zM982 84h1v1h-1zM984 84h1v1h-1zM986 84h1v1h-1zM988 84h1v1h-1zM990 84h1v1h-1zM992 83h1v1h-1zM994 81h1v1h-1zM996 80h1v1h-1zM998 80h1v1h-1zM1000 81h1v1h-1zM1002 82h1v1h-1zM1004 84h1v1h-1zM1006 86h1v1h-1zM1007 88h1v1h-1zM1008 90h1v1h-1zM1009 92h1v1h-1zM1010 94h1v1h-1zM1011 96h1v1h-1zM1012 98h1v1h-1zM1014 100h1v1h-1zM1015 102h1v1h-1zM1016 104h1v1h-1zM1017 106h1v1h-1zM1018 108h1v1h-1zM1019 110h1v1h-1zM1020 112h1v1h-1zM1021 113h1v1h-1zM1023 114h1v1h-1zM1025 115h1v1h-1zM1027 114h1v1h-1zM1029 113h1v1h-1zM1031 112h1v1h-1zM1033 112h1v1h-1zM1035 112h1v1h-1zM1037 111h1v1h-1zM1039 111h1v1h-1zM1041 109h1v1h-1zM1042 107h1v1h-1zM1044 105h1v1h-1zM1045 103h1v1h-1zM1046 101h1v1h-1zM1048 99h1v1h-1zM1049 97h1v1h-1zM1050 95h1v1h-1zM1052 93h1v1h-1zM1054 91h1v1h-1zM1056 89h1v1h-1zM1058 87h1v1h-1zM1060 85h1v1h-1zM1062 84h1v1h-1zM1064 82h1v1h-1zM1066 80h1v1h-1zM1067 78h1v1h-1zM1069 76h1v1h-1zM1070 74h1v1h-1zM1071 72h1v1h-1zM1072 70h1v1h-1zM1073 68h1v1h-1zM1074 66h1v1h-1zM1074 64h1v1h-1zM1075 62h1v1h-1zM1076 60h1v1h-1zM1077 58h1v1h-1zM1079 56h1v1h-1zM1080 54h1v1h-1zM1081 52h1v1h-1zM1083 51h1v1h-1zM1085 52h1v1h-1zM1087 52h1v1h-1zM1089 52h1v1h-1zM1091 51h1v1h-1zM1093 50h1v1h-1zM1095 49h1v1h-1zM1097 48h1v1h-1zM1099 47h1v1h-1zM1101 46h1v1h-1zM1103 46h1v1h-1zM1105 45h1v1h-1zM1107 44h1v1h-1zM1109 43h1v1h-1zM1111 42h1v1h-1zM1113 41h1v1h-1zM1115 40h1v1h-1z" fill="#74484a" shape-rendering="crispEdges"/>
<path d="M640 316h1v1h-1zM641 314h1v1h-1zM642 312h1v1h-1zM644 310h1v1h-1zM646 308h1v1h-1zM648 306h1v1h-1zM649 304h1v1h-1zM651 302h1v1h-1zM653 300h1v1h-1zM654 298h1v1h-1zM655 296h1v1h-1zM656 294h1v1h-1zM658 292h1v1h-1zM660 290h1v1h-1zM662 289h1v1h-1zM664 287h1v1h-1zM666 286h1v1h-1zM668 286h1v1h-1zM670 285h1v1h-1zM672 285h1v1h-1zM674 284h1v1h-1zM676 283h1v1h-1zM678 283h1v1h-1zM680 282h1v1h-1zM682 281h1v1h-1zM684 280h1v1h-1zM686 279h1v1h-1zM688 277h1v1h-1zM690 275h1v1h-1zM692 274h1v1h-1zM694 272h1v1h-1zM696 270h1v1h-1zM697 268h1v1h-1zM699 266h1v1h-1zM701 264h1v1h-1zM703 262h1v1h-1zM705 261h1v1h-1zM707 259h1v1h-1zM709 257h1v1h-1zM711 256h1v1h-1zM713 254h1v1h-1zM715 253h1v1h-1zM717 253h1v1h-1zM719 252h1v1h-1zM721 252h1v1h-1zM723 251h1v1h-1zM725 249h1v1h-1zM727 248h1v1h-1zM729 247h1v1h-1zM731 246h1v1h-1zM733 246h1v1h-1zM735 246h1v1h-1zM737 246h1v1h-1zM739 246h1v1h-1zM741 246h1v1h-1zM743 245h1v1h-1zM745 244h1v1h-1zM747 242h1v1h-1zM749 241h1v1h-1zM751 240h1v1h-1zM753 239h1v1h-1zM755 238h1v1h-1zM757 238h1v1h-1zM759 238h1v1h-1zM761 237h1v1h-1zM763 236h1v1h-1zM765 234h1v1h-1zM766 232h1v1h-1zM767 230h1v1h-1zM768 228h1v1h-1zM769 226h1v1h-1zM771 224h1v1h-1zM772 222h1v1h-1zM773 220h1v1h-1zM774 218h1v1h-1zM775 216h1v1h-1zM776 214h1v1h-1zM777 212h1v1h-1zM778 210h1v1h-1zM780 208h1v1h-1zM781 206h1v1h-1zM782 204h1v1h-1zM783 202h1v1h-1zM784 200h1v1h-1zM785 198h1v1h-1zM786 196h1v1h-1zM787 194h1v1h-1zM788 192h1v1h-1zM790 190h1v1h-1zM791 188h1v1h-1zM793 186h1v1h-1zM795 184h1v1h-1zM797 182h1v1h-1zM798 180h1v1h-1zM800 178h1v1h-1zM801 176h1v1h-1zM802 174h1v1h-1zM803 172h1v1h-1zM805 170h1v1h-1zM807 168h1v1h-1zM809 167h1v1h-1zM811 166h1v1h-1zM813 165h1v1h-1zM815 163h1v1h-1zM817 162h1v1h-1zM819 161h1v1h-1zM821 161h1v1h-1zM823 160h1v1h-1zM825 160h1v1h-1zM827 159h1v1h-1zM829 158h1v1h-1zM831 156h1v1h-1zM833 154h1v1h-1zM835 153h1v1h-1zM837 151h1v1h-1zM839 150h1v1h-1zM841 150h1v1h-1zM843 149h1v1h-1zM845 149h1v1h-1zM847 148h1v1h-1zM849 147h1v1h-1zM851 146h1v1h-1zM853 145h1v1h-1zM855 144h1v1h-1zM857 144h1v1h-1zM859 143h1v1h-1zM861 143h1v1h-1zM863 142h1v1h-1zM865 142h1v1h-1zM867 141h1v1h-1zM869 141h1v1h-1zM871 140h1v1h-1zM873 140h1v1h-1zM875 139h1v1h-1zM877 138h1v1h-1zM879 138h1v1h-1zM881 137h1v1h-1zM883 136h1v1h-1zM885 135h1v1h-1zM887 133h1v1h-1zM889 131h1v1h-1zM891 129h1v1h-1zM893 127h1v1h-1zM895 125h1v1h-1zM897 124h1v1h-1zM899 122h1v1h-1zM901 120h1v1h-1zM903 118h1v1h-1zM904 116h1v1h-1zM906 114h1v1h-1zM907 112h1v1h-1zM909 110h1v1h-1zM911 110h1v1h-1zM913 109h1v1h-1zM915 108h1v1h-1zM917 107h1v1h-1zM919 105h1v1h-1zM921 103h1v1h-1zM922 101h1v1h-1zM923 99h1v1h-1zM924 97h1v1h-1zM926 95h1v1h-1zM928 93h1v1h-1zM930 93h1v1h-1zM932 93h1v1h-1zM934 93h1v1h-1zM936 93h1v1h-1zM938 93h1v1h-1zM940 93h1v1h-1zM942 93h1v1h-1zM943 91h1v1h-1zM944 89h1v1h-1zM945 87h1v1h-1zM947 85h1v1h-1zM949 84h1v1h-1zM951 84h1v1h-1zM953 84h1v1h-1zM955 84h1v1h-1zM957 85h1v1h-1zM959 86h1v1h-1zM961 86h1v1h-1zM963 86h1v1h-1zM965 85h1v1h-1zM967 85h1v1h-1zM969 85h1v1h-1zM971 85h1v1h-1zM973 85h1v1h-1zM975 85h1v1h-1zM977 85h1v1h-1zM979 84h1v1h-1zM981 84h1v1h-1zM983 84h1v1h-1zM985 84h1v1h-1zM987 84h1v1h-1zM989 84h1v1h-1zM991 83h1v1h-1zM993 82h1v1h-1zM995 81h1v1h-1zM997 80h1v1h-1zM999 81h1v1h-1zM1001 82h1v1h-1zM1003 83h1v1h-1zM1005 85h1v1h-1zM1006 87h1v1h-1zM1008 89h1v1h-1zM1009 91h1v1h-1zM1010 93h1v1h-1zM1011 95h1v1h-1zM1012 97h1v1h-1zM1013 99h1v1h-1zM1014 101h1v1h-1zM1015 103h1v1h-1zM1016 105h1v1h-1zM1017 107h1v1h-1zM1018 109h1v1h-1zM1019 111h1v1h-1zM1020 113h1v1h-1zM1022 114h1v1h-1zM1024 115h1v1h-1zM1026 115h1v1h-1zM1028 114h1v1h-1zM1030 113h1v1h-1zM1032 112h1v1h-1zM1034 112h1v1h-1zM1036 111h1v1h-1zM1038 111h1v1h-1zM1040 110h1v1h-1zM1041 108h1v1h-1zM1043 106h1v1h-1zM1044 104h1v1h-1zM1046 102h1v1h-1zM1047 100h1v1h-1zM1048 98h1v1h-1zM1050 96h1v1h-1zM1051 94h1v1h-1zM1053 92h1v1h-1zM1055 90h1v1h-1zM1057 88h1v1h-1zM1059 86h1v1h-1zM1061 84h1v1h-1zM1063 83h1v1h-1zM1065 81h1v1h-1zM1066 79h1v1h-1zM1068 77h1v1h-1zM1069 75h1v1h-1zM1070 73h1v1h-1zM1071 71h1v1h-1zM1072 69h1v1h-1zM1073 67h1v1h-1zM1074 65h1v1h-1zM1075 63h1v1h-1zM1076 61h1v1h-1zM1077 59h1v1h-1zM1078 57h1v1h-1zM1079 55h1v1h-1zM1081 53h1v1h-1zM1082 51h1v1h-1zM1084 51h1v1h-1zM1086 52h1v1h-1zM1088 52h1v1h-1zM1090 51h1v1h-1zM1092 51h1v1h-1zM1094 50h1v1h-1zM1096 48h1v1h-1zM1098 47h1v1h-1zM1100 47h1v1h-1zM1102 46h1v1h-1zM1104 46h1v1h-1zM1106 45h1v1h-1zM1108 44h1v1h-1zM1110 43h1v1h-1zM1112 42h1v1h-1zM1114 41h1v1h-1z" fill="#b47a5a" shape-rendering="crispEdges"/>
<path d="M742 316h1v1h-1zM744 314h1v1h-1zM746 312h1v1h-1zM748 311h1v1h-1zM750 311h1v1h-1zM752 310h1v1h-1zM754 309h1v1h-1zM755 307h1v1h-1zM757 305h1v1h-1zM759 303h1v1h-1zM761 301h1v1h-1zM763 299h1v1h-1zM765 297h1v1h-1zM767 295h1v1h-1zM769 294h1v1h-1zM771 293h1v1h-1zM773 293h1v1h-1zM775 294h1v1h-1zM777 294h1v1h-1zM779 293h1v1h-1zM781 294h1v1h-1zM783 295h1v1h-1zM785 295h1v1h-1zM787 294h1v1h-1zM789 293h1v1h-1zM791 294h1v1h-1zM793 295h1v1h-1zM795 295h1v1h-1zM797 295h1v1h-1zM799 295h1v1h-1zM801 295h1v1h-1zM803 295h1v1h-1zM805 294h1v1h-1zM807 293h1v1h-1zM809 292h1v1h-1zM810 290h1v1h-1zM811 288h1v1h-1zM812 286h1v1h-1zM814 284h1v1h-1zM816 282h1v1h-1zM818 280h1v1h-1zM820 278h1v1h-1zM821 276h1v1h-1zM823 274h1v1h-1zM825 272h1v1h-1zM826 270h1v1h-1zM827 268h1v1h-1zM828 266h1v1h-1zM829 264h1v1h-1zM830 262h1v1h-1zM832 260h1v1h-1zM833 258h1v1h-1zM835 256h1v1h-1zM837 254h1v1h-1zM838 252h1v1h-1zM840 250h1v1h-1zM841 248h1v1h-1zM843 246h1v1h-1zM844 244h1v1h-1zM846 242h1v1h-1zM847 240h1v1h-1zM849 238h1v1h-1zM850 236h1v1h-1zM851 234h1v1h-1zM852 232h1v1h-1zM853 230h1v1h-1zM854 228h1v1h-1zM855 226h1v1h-1zM857 225h1v1h-1zM859 224h1v1h-1zM861 222h1v1h-1zM862 220h1v1h-1zM864 218h1v1h-1zM866 216h1v1h-1zM868 215h1v1h-1zM870 213h1v1h-1zM872 212h1v1h-1zM874 210h1v1h-1zM875 208h1v1h-1zM877 206h1v1h-1zM879 205h1v1h-1zM881 205h1v1h-1zM883 204h1v1h-1zM885 204h1v1h-1zM887 203h1v1h-1zM889 203h1v1h-1zM891 203h1v1h-1zM893 202h1v1h-1zM895 202h1v1h-1zM897 201h1v1h-1zM899 200h1v1h-1zM901 199h1v1h-1zM903 198h1v1h-1zM905 197h1v1h-1zM907 196h1v1h-1zM908 194h1v1h-1zM910 192h1v1h-1zM911 190h1v1h-1zM913 188h1v1h-1zM914 186h1v1h-1zM916 184h1v1h-1zM918 183h1v1h-1zM920 182h1v1h-1zM922 182h1v1h-1zM924 183h1v1h-1zM926 182h1v1h-1zM928 181h1v1h-1zM930 179h1v1h-1zM932 178h1v1h-1zM934 177h1v1h-1zM936 176h1v1h-1zM938 176h1v1h-1zM940 177h1v1h-1zM942 179h1v1h-1zM943 181h1v1h-1zM944 183h1v1h-1zM945 185h1v1h-1zM946 187h1v1h-1zM947 189h1v1h-1zM948 191h1v1h-1zM950 191h1v1h-1zM952 192h1v1h-1zM954 191h1v1h-1zM956 190h1v1h-1zM958 188h1v1h-1zM960 187h1v1h-1zM962 186h1v1h-1zM964 185h1v1h-1zM966 185h1v1h-1zM968 184h1v1h-1zM970 184h1v1h-1zM972 184h1v1h-1zM974 183h1v1h-1zM976 183h1v1h-1zM978 184h1v1h-1zM980 184h1v1h-1zM982 185h1v1h-1zM984 187h1v1h-1zM986 189h1v1h-1zM987 191h1v1h-1zM988 193h1v1h-1zM989 195h1v1h-1zM990 197h1v1h-1zM992 199h1v1h-1zM993 201h1v1h-1zM994 203h1v1h-1zM995 205h1v1h-1zM995 207h1v1h-1zM996 209h1v1h-1zM997 211h1v1h-1zM998 213h1v1h-1zM999 215h1v1h-1zM1000 217h1v1h-1zM1001 218h1v1h-1zM1003 219h1v1h-1zM1005 219h1v1h-1zM1007 219h1v1h-1zM1009 219h1v1h-1zM1011 218h1v1h-1zM1013 217h1v1h-1zM1015 216h1v1h-1zM1017 215h1v1h-1zM1019 214h1v1h-1zM1021 213h1v1h-1zM1023 212h1v1h-1zM1025 212h1v1h-1zM1027 212h1v1h-1zM1029 212h1v1h-1zM1031 212h1v1h-1zM1033 211h1v1h-1zM1034 209h1v1h-1zM1036 207h1v1h-1zM1037 205h1v1h-1zM1039 204h1v1h-1zM1041 205h1v1h-1zM1043 206h1v1h-1zM1045 207h1v1h-1zM1047 208h1v1h-1zM1049 209h1v1h-1zM1051 210h1v1h-1zM1053 211h1v1h-1zM1055 212h1v1h-1zM1057 212h1v1h-1zM1059 213h1v1h-1zM1061 213h1v1h-1zM1063 213h1v1h-1zM1065 213h1v1h-1zM1067 213h1v1h-1zM1069 214h1v1h-1zM1071 215h1v1h-1zM1073 215h1v1h-1zM1075 215h1v1h-1zM1077 215h1v1h-1zM1079 214h1v1h-1zM1081 212h1v1h-1zM1082 210h1v1h-1zM1083 208h1v1h-1zM1083 206h1v1h-1zM1084 204h1v1h-1zM1085 202h1v1h-1zM1085 200h1v1h-1zM1086 198h1v1h-1zM1087 196h1v1h-1zM1088 194h1v1h-1zM1089 192h1v1h-1zM1089 190h1v1h-1zM1090 188h1v1h-1zM1090 186h1v1h-1zM1091 184h1v1h-1zM1092 182h1v1h-1zM1093 180h1v1h-1zM1094 178h1v1h-1zM1095 176h1v1h-1zM1097 174h1v1h-1zM1098 172h1v1h-1zM1099 170h1v1h-1zM1100 168h1v1h-1zM1102 166h1v1h-1zM1103 164h1v1h-1zM1104 162h1v1h-1zM1105 160h1v1h-1zM1106 158h1v1h-1zM1108 156h1v1h-1zM1109 154h1v1h-1zM1110 152h1v1h-1zM1111 150h1v1h-1zM1113 148h1v1h-1zM1114 146h1v1h-1zM1115 144h1v1h-1zM1117 142h1v1h-1zM1118 140h1v1h-1zM1119 138h1v1h-1zM1120 136h1v1h-1zM1121 134h1v1h-1zM1123 132h1v1h-1z" fill="#74484a" shape-rendering="crispEdges"/>
<path d="M741 317h1v1h-1zM743 315h1v1h-1zM745 313h1v1h-1zM747 312h1v1h-1zM749 311h1v1h-1zM751 311h1v1h-1zM753 310h1v1h-1zM754 308h1v1h-1zM756 306h1v1h-1zM758 304h1v1h-1zM760 302h1v1h-1zM762 300h1v1h-1zM764 298h1v1h-1zM766 296h1v1h-1zM768 295h1v1h-1zM770 294h1v1h-1zM772 293h1v1h-1zM774 294h1v1h-1zM776 294h1v1h-1zM778 293h1v1h-1zM780 293h1v1h-1zM782 294h1v1h-1zM784 295h1v1h-1zM786 294h1v1h-1zM788 293h1v1h-1zM790 294h1v1h-1zM792 295h1v1h-1zM794 295h1v1h-1zM796 295h1v1h-1zM798 295h1v1h-1zM800 295h1v1h-1zM802 295h1v1h-1zM804 294h1v1h-1zM806 294h1v1h-1zM808 293h1v1h-1zM809 291h1v1h-1zM810 289h1v1h-1zM811 287h1v1h-1zM813 285h1v1h-1zM815 283h1v1h-1zM817 281h1v1h-1zM819 279h1v1h-1zM820 277h1v1h-1zM822 275h1v1h-1zM824 273h1v1h-1zM826 271h1v1h-1zM827 269h1v1h-1zM827 267h1v1h-1zM828 265h1v1h-1zM830 263h1v1h-1zM831 261h1v1h-1zM833 259h1v1h-1zM834 257h1v1h-1zM836 255h1v1h-1zM837 253h1v1h-1zM839 251h1v1h-1zM840 249h1v1h-1zM842 247h1v1h-1zM843 245h1v1h-1zM845 243h1v1h-1zM846 241h1v1h-1zM848 239h1v1h-1zM849 237h1v1h-1zM850 235h1v1h-1zM851 233h1v1h-1zM852 231h1v1h-1zM854 229h1v1h-1zM855 227h1v1h-1zM856 225h1v1h-1zM858 224h1v1h-1zM860 223h1v1h-1zM862 221h1v1h-1zM863 219h1v1h-1zM865 217h1v1h-1zM867 216h1v1h-1zM869 214h1v1h-1zM871 213h1v1h-1zM873 211h1v1h-1zM875 209h1v1h-1zM876 207h1v1h-1zM878 206h1v1h-1zM880 205h1v1h-1zM882 204h1v1h-1zM884 204h1v1h-1zM886 203h1v1h-1zM888 203h1v1h-1zM890 203h1v1h-1zM892 203h1v1h-1zM894 202h1v1h-1zM896 201h1v1h-1zM898 200h1v1h-1zM900 200h1v1h-1zM902 199h1v1h-1zM904 198h1v1h-1zM906 197h1v1h-1zM908 195h1v1h-1zM909 193h1v1h-1zM911 191h1v1h-1zM912 189h1v1h-1zM914 187h1v1h-1zM915 185h1v1h-1zM917 184h1v1h-1zM919 183h1v1h-1zM921 182h1v1h-1zM923 183h1v1h-1zM925 183h1v1h-1zM927 182h1v1h-1zM929 180h1v1h-1zM931 179h1v1h-1zM933 177h1v1h-1zM935 177h1v1h-1zM937 176h1v1h-1zM939 177h1v1h-1zM941 178h1v1h-1zM942 180h1v1h-1zM943 182h1v1h-1zM944 184h1v1h-1zM945 186h1v1h-1zM946 188h1v1h-1zM947 190h1v1h-1zM949 191h1v1h-1zM951 192h1v1h-1zM953 191h1v1h-1zM955 190h1v1h-1zM957 189h1v1h-1zM959 188h1v1h-1zM961 187h1v1h-1zM963 186h1v1h-1zM965 185h1v1h-1zM967 185h1v1h-1zM969 184h1v1h-1zM971 184h1v1h-1zM973 183h1v1h-1zM975 183h1v1h-1zM977 183h1v1h-1zM979 184h1v1h-1zM981 185h1v1h-1zM983 186h1v1h-1zM985 188h1v1h-1zM986 190h1v1h-1zM987 192h1v1h-1zM988 194h1v1h-1zM989 196h1v1h-1zM991 198h1v1h-1zM992 200h1v1h-1zM993 202h1v1h-1zM994 204h1v1h-1zM995 206h1v1h-1zM996 208h1v1h-1zM997 210h1v1h-1zM998 212h1v1h-1zM998 214h1v1h-1zM999 216h1v1h-1zM1000 218h1v1h-1zM1002 218h1v1h-1zM1004 219h1v1h-1zM1006 219h1v1h-1zM1008 219h1v1h-1zM1010 219h1v1h-1zM1012 218h1v1h-1zM1014 216h1v1h-1zM1016 215h1v1h-1zM1018 214h1v1h-1zM1020 213h1v1h-1zM1022 212h1v1h-1zM1024 212h1v1h-1zM1026 212h1v1h-1zM1028 212h1v1h-1zM1030 212h1v1h-1zM1032 212h1v1h-1zM1033 210h1v1h-1zM1035 208h1v1h-1zM1036 206h1v1h-1zM1038 204h1v1h-1zM1040 205h1v1h-1zM1042 205h1v1h-1zM1044 206h1v1h-1zM1046 207h1v1h-1zM1048 209h1v1h-1zM1050 210h1v1h-1zM1052 211h1v1h-1zM1054 211h1v1h-1zM1056 212h1v1h-1zM1058 212h1v1h-1zM1060 213h1v1h-1zM1062 213h1v1h-1zM1064 213h1v1h-1zM1066 213h1v1h-1zM1068 214h1v1h-1zM1070 215h1v1h-1zM1072 215h1v1h-1zM1074 215h1v1h-1zM1076 215h1v1h-1zM1078 215h1v1h-1zM1080 213h1v1h-1zM1082 211h1v1h-1zM1083 209h1v1h-1zM1083 207h1v1h-1zM1084 205h1v1h-1zM1084 203h1v1h-1zM1085 201h1v1h-1zM1086 199h1v1h-1zM1087 197h1v1h-1zM1087 195h1v1h-1zM1088 193h1v1h-1zM1089 191h1v1h-1zM1090 189h1v1h-1zM1090 187h1v1h-1zM1091 185h1v1h-1zM1091 183h1v1h-1zM1092 181h1v1h-1zM1093 179h1v1h-1zM1095 177h1v1h-1zM1096 175h1v1h-1zM1097 173h1v1h-1zM1099 171h1v1h-1zM1100 169h1v1h-1zM1101 167h1v1h-1zM1102 165h1v1h-1zM1103 163h1v1h-1zM1105 161h1v1h-1zM1106 159h1v1h-1zM1107 157h1v1h-1zM1108 155h1v1h-1zM1109 153h1v1h-1zM1111 151h1v1h-1zM1112 149h1v1h-1zM1113 147h1v1h-1zM1115 145h1v1h-1zM1116 143h1v1h-1zM1117 141h1v1h-1zM1118 139h1v1h-1zM1119 137h1v1h-1zM1120 135h1v1h-1zM1122 133h1v1h-1zM1124 131h1v1h-1z" fill="#b47a5a" shape-rendering="crispEdges"/>
<g font-family="'Liberation Sans','Sarabun','Noto Sans Thai Looped','Noto Sans Thai','Loma','Tahoma',sans-serif" font-style="italic" fill="#ff7f27" font-size="26.67">
<text x="256" y="122.5" textLength="152" lengthAdjust="spacingAndGlyphs" font-size="24.8" font-weight="400">ถ้าโหดต่อเนื่อง</text>
<text x="256" y="168.5" textLength="205" lengthAdjust="spacingAndGlyphs" font-size="24.8" font-weight="400">ก็ควรจะลงมาหาเส้น</text>
<text x="470.5" y="168.5" textLength="25" lengthAdjust="spacingAndGlyphs">75</text>
<text x="503" y="168.5" textLength="101" lengthAdjust="spacingAndGlyphs" font-size="24.8" font-weight="400">วันอีกครั้ง</text>
<text x="256" y="214.5" textLength="55" lengthAdjust="spacingAndGlyphs" font-size="24.8" font-weight="400">ล่าสุด</text>
<text x="320" y="214.5" textLength="70.5" lengthAdjust="spacingAndGlyphs" font-size="24.8" font-weight="400">อยู่แถว</text>
<text x="396.5" y="214.5" textLength="13" lengthAdjust="spacingAndGlyphs" font-size="24.8" font-weight="400">ๆ</text>
<text x="419.5" y="214.5" textLength="51" lengthAdjust="spacingAndGlyphs">1550</text>
</g>
<g clip-path="url(#cAll)" shape-rendering="crispEdges">
<rect x="145" y="464" width="1" height="1" fill="#ff0000"/>
<rect x="154" y="464" width="1" height="2" fill="#00ff00"/><rect x="152" y="464" width="4" height="2" fill="#00ff00"/>
<rect x="158" y="460" width="1" height="6" fill="#00ff00"/><rect x="157" y="460" width="3" height="6" fill="#00ff00"/>
<rect x="163" y="463" width="1" height="2" fill="#ff0000"/>
<rect x="167" y="457" width="1" height="9" fill="#00ff00"/><rect x="166" y="459" width="3" height="7" fill="#00ff00"/>
<rect x="172" y="450" width="1" height="10" fill="#00ff00"/><rect x="170" y="455" width="4" height="3" fill="#00ff00"/>
<rect x="176" y="445" width="1" height="5" fill="#00ff00"/><rect x="175" y="446" width="3" height="4" fill="#00ff00"/>
<rect x="181" y="445" width="1" height="9" fill="#ff0000"/><rect x="180" y="448" width="3" height="4" fill="#ff0000"/>
<rect x="185" y="442" width="1" height="17" fill="#ff0000"/><rect x="184" y="442" width="3" height="14" fill="#ff0000"/>
<rect x="190" y="451" width="1" height="13" fill="#ff0000"/><rect x="189" y="453" width="3" height="7" fill="#ff0000"/>
<rect x="235" y="459" width="1" height="7" fill="#00ff00"/><rect x="234" y="461" width="3" height="5" fill="#00ff00"/>
<rect x="240" y="457" width="1" height="5" fill="#ff0000"/><rect x="238" y="458" width="4" height="3" fill="#ff0000"/>
<rect x="244" y="452" width="1" height="6" fill="#00ff00"/><rect x="243" y="455" width="3" height="3" fill="#00ff00"/>
<rect x="249" y="446" width="1" height="12" fill="#ff0000"/><rect x="247" y="450" width="4" height="4" fill="#ff0000"/>
<rect x="253" y="450" width="1" height="9" fill="#00ff00"/><rect x="252" y="450" width="3" height="5" fill="#00ff00"/>
<rect x="258" y="443" width="1" height="9" fill="#00ff00"/><rect x="257" y="443" width="3" height="5" fill="#00ff00"/>
<rect x="262" y="443" width="1" height="8" fill="#00ff00"/><rect x="261" y="443" width="3" height="4" fill="#00ff00"/>
<rect x="267" y="440" width="1" height="6" fill="#ff0000"/><rect x="266" y="442" width="3" height="4" fill="#ff0000"/>
<rect x="271" y="440" width="1" height="10" fill="#ff0000"/><rect x="270" y="440" width="4" height="6" fill="#ff0000"/>
<rect x="276" y="441" width="1" height="11" fill="#00ff00"/><rect x="275" y="441" width="3" height="7" fill="#00ff00"/>
<rect x="280" y="435" width="1" height="8" fill="#00ff00"/><rect x="279" y="438" width="4" height="5" fill="#00ff00"/>
<rect x="285" y="436" width="1" height="6" fill="#00ff00"/><rect x="284" y="437" width="3" height="3" fill="#00ff00"/>
<rect x="289" y="428" width="1" height="8" fill="#00ff00"/><rect x="288" y="433" width="4" height="3" fill="#00ff00"/>
<rect x="294" y="433" width="1" height="7" fill="#00ff00"/><rect x="293" y="434" width="3" height="5" fill="#00ff00"/>
<rect x="299" y="429" width="1" height="8" fill="#ff0000"/><rect x="297" y="431" width="4" height="6" fill="#ff0000"/>
<rect x="303" y="432" width="1" height="8" fill="#ff0000"/><rect x="302" y="436" width="3" height="3" fill="#ff0000"/>
<rect x="308" y="433" width="1" height="17" fill="#ff0000"/><rect x="306" y="437" width="4" height="13" fill="#ff0000"/>
<rect x="312" y="453" width="1" height="9" fill="#ff0000"/><rect x="311" y="453" width="3" height="4" fill="#ff0000"/>
<rect x="317" y="443" width="1" height="15" fill="#00ff00"/><rect x="315" y="443" width="4" height="13" fill="#00ff00"/>
<rect x="321" y="432" width="1" height="8" fill="#00ff00"/><rect x="320" y="435" width="3" height="5" fill="#00ff00"/>
<rect x="326" y="429" width="1" height="9" fill="#ff0000"/><rect x="324" y="430" width="4" height="5" fill="#ff0000"/>
<rect x="330" y="432" width="1" height="8" fill="#00ff00"/><rect x="329" y="437" width="3" height="3" fill="#00ff00"/>
<rect x="335" y="425" width="1" height="9" fill="#00ff00"/><rect x="334" y="427" width="3" height="6" fill="#00ff00"/>
<rect x="339" y="416" width="1" height="9" fill="#ff0000"/><rect x="338" y="418" width="3" height="7" fill="#ff0000"/>
<rect x="344" y="417" width="1" height="7" fill="#00ff00"/><rect x="343" y="421" width="3" height="3" fill="#00ff00"/>
<rect x="348" y="419" width="1" height="8" fill="#ff0000"/><rect x="347" y="421" width="4" height="4" fill="#ff0000"/>
<rect x="353" y="412" width="1" height="7" fill="#00ff00"/><rect x="352" y="412" width="3" height="5" fill="#00ff00"/>
<rect x="357" y="410" width="1" height="8" fill="#ff0000"/><rect x="356" y="411" width="4" height="3" fill="#ff0000"/>
<rect x="362" y="394" width="1" height="8" fill="#00ff00"/><rect x="361" y="397" width="3" height="4" fill="#00ff00"/>
<rect x="366" y="391" width="1" height="8" fill="#00ff00"/><rect x="365" y="395" width="4" height="3" fill="#00ff00"/>
<rect x="371" y="394" width="1" height="10" fill="#ff0000"/><rect x="370" y="399" width="3" height="3" fill="#ff0000"/>
<rect x="376" y="388" width="1" height="12" fill="#00ff00"/><rect x="374" y="388" width="4" height="11" fill="#00ff00"/>
<rect x="380" y="387" width="1" height="10" fill="#00ff00"/><rect x="379" y="391" width="3" height="3" fill="#00ff00"/>
<rect x="385" y="386" width="1" height="5" fill="#00ff00"/><rect x="383" y="388" width="4" height="2" fill="#00ff00"/>
<rect x="389" y="386" width="1" height="7" fill="#00ff00"/><rect x="388" y="390" width="3" height="2" fill="#00ff00"/>
<rect x="394" y="384" width="1" height="5" fill="#ff0000"/><rect x="392" y="387" width="4" height="2" fill="#ff0000"/>
<rect x="398" y="389" width="1" height="14" fill="#ff0000"/><rect x="397" y="391" width="3" height="8" fill="#ff0000"/>
<rect x="403" y="384" width="1" height="12" fill="#00ff00"/><rect x="401" y="388" width="4" height="8" fill="#00ff00"/>
<rect x="407" y="375" width="1" height="6" fill="#00ff00"/><rect x="406" y="375" width="3" height="6" fill="#00ff00"/>
<rect x="412" y="371" width="1" height="9" fill="#00ff00"/><rect x="411" y="375" width="3" height="4" fill="#00ff00"/>
<rect x="416" y="366" width="1" height="8" fill="#00ff00"/><rect x="415" y="369" width="3" height="3" fill="#00ff00"/>
<rect x="421" y="364" width="1" height="9" fill="#ff0000"/><rect x="420" y="366" width="3" height="4" fill="#ff0000"/>
<rect x="425" y="361" width="1" height="10" fill="#ff0000"/><rect x="424" y="366" width="4" height="5" fill="#ff0000"/>
<rect x="430" y="361" width="1" height="6" fill="#ff0000"/><rect x="429" y="363" width="3" height="3" fill="#ff0000"/>
<rect x="434" y="365" width="1" height="9" fill="#ff0000"/><rect x="433" y="367" width="4" height="3" fill="#ff0000"/>
<rect x="439" y="361" width="1" height="21" fill="#ff0000"/><rect x="438" y="365" width="3" height="17" fill="#ff0000"/>
<rect x="443" y="380" width="1" height="9" fill="#00ff00"/><rect x="442" y="385" width="4" height="4" fill="#00ff00"/>
<rect x="448" y="380" width="1" height="13" fill="#00ff00"/><rect x="447" y="380" width="3" height="4" fill="#00ff00"/>
<rect x="453" y="372" width="1" height="8" fill="#ff0000"/><rect x="451" y="376" width="4" height="4" fill="#ff0000"/>
<rect x="457" y="379" width="1" height="9" fill="#ff0000"/><rect x="456" y="381" width="3" height="5" fill="#ff0000"/>
<rect x="462" y="377" width="1" height="10" fill="#ff0000"/><rect x="460" y="379" width="4" height="8" fill="#ff0000"/>
<rect x="466" y="374" width="1" height="10" fill="#00ff00"/><rect x="465" y="374" width="3" height="8" fill="#00ff00"/>
<rect x="471" y="363" width="1" height="9" fill="#00ff00"/><rect x="469" y="364" width="4" height="4" fill="#00ff00"/>
<rect x="475" y="361" width="1" height="7" fill="#ff0000"/><rect x="474" y="364" width="3" height="4" fill="#ff0000"/>
<rect x="480" y="365" width="1" height="9" fill="#00ff00"/><rect x="478" y="365" width="4" height="7" fill="#00ff00"/>
<rect x="484" y="367" width="1" height="16" fill="#ff0000"/><rect x="483" y="370" width="3" height="9" fill="#ff0000"/>
<rect x="489" y="376" width="1" height="12" fill="#00ff00"/><rect x="488" y="377" width="3" height="4" fill="#00ff00"/>
<rect x="493" y="380" width="1" height="22" fill="#ff0000"/><rect x="492" y="381" width="3" height="11" fill="#ff0000"/>
<rect x="498" y="390" width="1" height="8" fill="#ff0000"/><rect x="497" y="392" width="3" height="4" fill="#ff0000"/>
<rect x="502" y="380" width="1" height="14" fill="#00ff00"/><rect x="501" y="380" width="4" height="12" fill="#00ff00"/>
<rect x="507" y="375" width="1" height="7" fill="#00ff00"/><rect x="506" y="376" width="3" height="4" fill="#00ff00"/>
<rect x="511" y="372" width="1" height="8" fill="#00ff00"/><rect x="510" y="378" width="4" height="2" fill="#00ff00"/>
<rect x="516" y="364" width="1" height="7" fill="#ff0000"/><rect x="515" y="368" width="3" height="3" fill="#ff0000"/>
<rect x="520" y="365" width="1" height="7" fill="#ff0000"/><rect x="519" y="368" width="4" height="3" fill="#ff0000"/>
<rect x="525" y="362" width="1" height="14" fill="#ff0000"/><rect x="524" y="367" width="3" height="7" fill="#ff0000"/>
<rect x="530" y="369" width="1" height="8" fill="#ff0000"/><rect x="528" y="371" width="4" height="4" fill="#ff0000"/>
<rect x="534" y="379" width="1" height="9" fill="#00ff00"/><rect x="533" y="381" width="3" height="4" fill="#00ff00"/>
<rect x="539" y="377" width="1" height="11" fill="#ff0000"/><rect x="537" y="382" width="4" height="3" fill="#ff0000"/>
<rect x="543" y="378" width="1" height="7" fill="#00ff00"/><rect x="542" y="380" width="3" height="3" fill="#00ff00"/>
<rect x="548" y="380" width="1" height="10" fill="#ff0000"/><rect x="546" y="383" width="4" height="3" fill="#ff0000"/>
<rect x="552" y="381" width="1" height="13" fill="#ff0000"/><rect x="551" y="383" width="3" height="11" fill="#ff0000"/>
<rect x="557" y="397" width="1" height="8" fill="#ff0000"/><rect x="556" y="399" width="3" height="2" fill="#ff0000"/>
<rect x="561" y="393" width="1" height="8" fill="#00ff00"/><rect x="560" y="393" width="3" height="7" fill="#00ff00"/>
<rect x="566" y="389" width="1" height="6" fill="#00ff00"/><rect x="565" y="390" width="3" height="3" fill="#00ff00"/>
<rect x="570" y="383" width="1" height="16" fill="#ff0000"/><rect x="569" y="384" width="3" height="13" fill="#ff0000"/>
<rect x="575" y="393" width="1" height="12" fill="#ff0000"/><rect x="574" y="395" width="3" height="4" fill="#ff0000"/>
<rect x="579" y="391" width="1" height="5" fill="#00ff00"/><rect x="578" y="393" width="4" height="3" fill="#00ff00"/>
<rect x="584" y="391" width="1" height="10" fill="#00ff00"/><rect x="583" y="392" width="3" height="4" fill="#00ff00"/>
<rect x="588" y="382" width="1" height="6" fill="#00ff00"/><rect x="587" y="383" width="4" height="5" fill="#00ff00"/>
<rect x="593" y="376" width="1" height="6" fill="#00ff00"/><rect x="592" y="378" width="3" height="3" fill="#00ff00"/>
<rect x="598" y="373" width="1" height="9" fill="#00ff00"/><rect x="596" y="375" width="4" height="5" fill="#00ff00"/>
<rect x="602" y="364" width="1" height="7" fill="#00ff00"/><rect x="601" y="366" width="3" height="5" fill="#00ff00"/>
<rect x="607" y="348" width="1" height="14" fill="#00ff00"/><rect x="605" y="352" width="4" height="9" fill="#00ff00"/>
<rect x="611" y="343" width="1" height="7" fill="#00ff00"/><rect x="610" y="344" width="3" height="3" fill="#00ff00"/>
<rect x="616" y="342" width="1" height="8" fill="#ff0000"/><rect x="614" y="343" width="4" height="4" fill="#ff0000"/>
<rect x="620" y="335" width="1" height="7" fill="#00ff00"/><rect x="619" y="337" width="3" height="4" fill="#00ff00"/>
<rect x="625" y="334" width="1" height="12" fill="#ff0000"/><rect x="623" y="336" width="4" height="6" fill="#ff0000"/>
<rect x="629" y="333" width="1" height="6" fill="#00ff00"/><rect x="628" y="336" width="3" height="2" fill="#00ff00"/>
<rect x="634" y="323" width="1" height="9" fill="#00ff00"/><rect x="633" y="324" width="3" height="6" fill="#00ff00"/>
<rect x="638" y="317" width="1" height="10" fill="#ff0000"/><rect x="637" y="322" width="3" height="4" fill="#ff0000"/>
<rect x="643" y="318" width="1" height="7" fill="#00ff00"/><rect x="642" y="320" width="3" height="4" fill="#00ff00"/>
<rect x="647" y="313" width="1" height="8" fill="#ff0000"/><rect x="646" y="317" width="3" height="4" fill="#ff0000"/>
<rect x="652" y="313" width="1" height="17" fill="#ff0000"/><rect x="651" y="315" width="3" height="3" fill="#ff0000"/>
<rect x="656" y="301" width="1" height="10" fill="#00ff00"/><rect x="655" y="301" width="4" height="8" fill="#00ff00"/>
<rect x="661" y="298" width="1" height="9" fill="#ff0000"/><rect x="660" y="302" width="3" height="2" fill="#ff0000"/>
<rect x="665" y="304" width="1" height="6" fill="#00ff00"/><rect x="664" y="306" width="4" height="3" fill="#00ff00"/>
<rect x="670" y="304" width="1" height="5" fill="#00ff00"/><rect x="669" y="304" width="3" height="4" fill="#00ff00"/>
<rect x="675" y="300" width="1" height="7" fill="#00ff00"/><rect x="673" y="301" width="4" height="5" fill="#00ff00"/>
<rect x="679" y="295" width="1" height="8" fill="#00ff00"/><rect x="678" y="298" width="3" height="4" fill="#00ff00"/>
<rect x="684" y="282" width="1" height="14" fill="#00ff00"/><rect x="682" y="284" width="4" height="10" fill="#00ff00"/>
<rect x="688" y="277" width="1" height="11" fill="#ff0000"/><rect x="687" y="279" width="3" height="9" fill="#ff0000"/>
<rect x="693" y="270" width="1" height="10" fill="#00ff00"/><rect x="691" y="274" width="4" height="6" fill="#00ff00"/>
<rect x="697" y="266" width="1" height="10" fill="#ff0000"/><rect x="696" y="270" width="3" height="5" fill="#ff0000"/>
<rect x="702" y="265" width="1" height="16" fill="#00ff00"/><rect x="700" y="265" width="4" height="11" fill="#00ff00"/>
<rect x="706" y="257" width="1" height="10" fill="#ff0000"/><rect x="705" y="259" width="3" height="8" fill="#ff0000"/>
<rect x="711" y="261" width="1" height="10" fill="#00ff00"/><rect x="710" y="265" width="3" height="4" fill="#00ff00"/>
<rect x="715" y="254" width="1" height="8" fill="#00ff00"/><rect x="714" y="259" width="3" height="3" fill="#00ff00"/>
<rect x="720" y="254" width="1" height="23" fill="#ff0000"/><rect x="719" y="256" width="3" height="19" fill="#ff0000"/>
<rect x="724" y="270" width="1" height="18" fill="#00ff00"/><rect x="723" y="270" width="4" height="4" fill="#00ff00"/>
<rect x="729" y="255" width="1" height="12" fill="#00ff00"/><rect x="728" y="257" width="3" height="8" fill="#00ff00"/>
<rect x="733" y="251" width="1" height="13" fill="#ff0000"/><rect x="732" y="251" width="4" height="9" fill="#ff0000"/>
<rect x="738" y="256" width="1" height="13" fill="#ff0000"/><rect x="737" y="258" width="3" height="8" fill="#ff0000"/>
<rect x="742" y="260" width="1" height="11" fill="#ff0000"/><rect x="741" y="261" width="4" height="2" fill="#ff0000"/>
<rect x="747" y="246" width="1" height="9" fill="#00ff00"/><rect x="746" y="249" width="3" height="5" fill="#00ff00"/>
<rect x="752" y="239" width="1" height="9" fill="#ff0000"/><rect x="750" y="242" width="4" height="3" fill="#ff0000"/>
<rect x="756" y="233" width="1" height="16" fill="#ff0000"/><rect x="755" y="241" width="3" height="8" fill="#ff0000"/>
<rect x="761" y="239" width="1" height="24" fill="#ff0000"/><rect x="759" y="243" width="4" height="3" fill="#ff0000"/>
<rect x="765" y="233" width="1" height="13" fill="#00ff00"/><rect x="764" y="235" width="3" height="4" fill="#00ff00"/>
<rect x="770" y="222" width="1" height="11" fill="#00ff00"/><rect x="768" y="223" width="4" height="10" fill="#00ff00"/>
<rect x="774" y="212" width="1" height="9" fill="#00ff00"/><rect x="773" y="212" width="3" height="6" fill="#00ff00"/>
<rect x="779" y="207" width="1" height="10" fill="#00ff00"/><rect x="777" y="207" width="4" height="3" fill="#00ff00"/>
<rect x="783" y="194" width="1" height="12" fill="#00ff00"/><rect x="782" y="196" width="3" height="6" fill="#00ff00"/>
<rect x="788" y="196" width="1" height="18" fill="#ff0000"/><rect x="787" y="199" width="3" height="12" fill="#ff0000"/>
<rect x="792" y="188" width="1" height="17" fill="#00ff00"/><rect x="791" y="188" width="3" height="17" fill="#00ff00"/>
<rect x="797" y="176" width="1" height="9" fill="#ff0000"/><rect x="796" y="179" width="3" height="4" fill="#ff0000"/>
<rect x="801" y="178" width="1" height="15" fill="#00ff00"/><rect x="800" y="182" width="4" height="10" fill="#00ff00"/>
<rect x="806" y="178" width="1" height="11" fill="#ff0000"/><rect x="805" y="178" width="3" height="9" fill="#ff0000"/>
<rect x="810" y="184" width="1" height="19" fill="#00ff00"/><rect x="809" y="187" width="4" height="5" fill="#00ff00"/>
<rect x="815" y="178" width="1" height="14" fill="#ff0000"/><rect x="814" y="187" width="3" height="5" fill="#ff0000"/>
<rect x="819" y="185" width="1" height="13" fill="#ff0000"/><rect x="818" y="185" width="4" height="12" fill="#ff0000"/>
<rect x="824" y="190" width="1" height="10" fill="#00ff00"/><rect x="823" y="198" width="3" height="2" fill="#00ff00"/>
<rect x="829" y="172" width="1" height="18" fill="#00ff00"/><rect x="827" y="173" width="4" height="16" fill="#00ff00"/>
<rect x="833" y="160" width="1" height="11" fill="#00ff00"/><rect x="832" y="161" width="3" height="5" fill="#00ff00"/>
<rect x="838" y="163" width="1" height="11" fill="#ff0000"/><rect x="836" y="164" width="4" height="5" fill="#ff0000"/>
<rect x="842" y="160" width="1" height="9" fill="#ff0000"/><rect x="841" y="165" width="3" height="2" fill="#ff0000"/>
<rect x="847" y="156" width="1" height="8" fill="#00ff00"/><rect x="845" y="157" width="4" height="4" fill="#00ff00"/>
<rect x="851" y="143" width="1" height="10" fill="#00ff00"/><rect x="850" y="143" width="3" height="7" fill="#00ff00"/>
<rect x="856" y="149" width="1" height="13" fill="#ff0000"/><rect x="854" y="152" width="4" height="7" fill="#ff0000"/>
<rect x="860" y="147" width="1" height="14" fill="#00ff00"/><rect x="859" y="149" width="3" height="11" fill="#00ff00"/>
<rect x="865" y="150" width="1" height="14" fill="#ff0000"/><rect x="864" y="151" width="3" height="8" fill="#ff0000"/>
<rect x="869" y="151" width="1" height="19" fill="#ff0000"/><rect x="868" y="154" width="3" height="15" fill="#ff0000"/>
<rect x="874" y="148" width="1" height="21" fill="#00ff00"/><rect x="873" y="148" width="3" height="11" fill="#00ff00"/>
<rect x="878" y="140" width="1" height="12" fill="#ff0000"/><rect x="877" y="146" width="4" height="4" fill="#ff0000"/>
<rect x="883" y="146" width="1" height="12" fill="#00ff00"/><rect x="882" y="149" width="3" height="2" fill="#00ff00"/>
<rect x="887" y="135" width="1" height="10" fill="#ff0000"/><rect x="886" y="139" width="4" height="4" fill="#ff0000"/>
<rect x="892" y="129" width="1" height="7" fill="#00ff00"/><rect x="891" y="131" width="3" height="3" fill="#00ff00"/>
<rect x="896" y="128" width="1" height="8" fill="#ff0000"/><rect x="895" y="130" width="4" height="2" fill="#ff0000"/>
<rect x="901" y="118" width="1" height="10" fill="#ff0000"/><rect x="900" y="120" width="3" height="4" fill="#ff0000"/>
<rect x="906" y="111" width="1" height="9" fill="#00ff00"/><rect x="904" y="114" width="4" height="4" fill="#00ff00"/>
<rect x="910" y="106" width="1" height="15" fill="#ff0000"/><rect x="909" y="109" width="3" height="6" fill="#ff0000"/>
<rect x="915" y="109" width="1" height="11" fill="#ff0000"/><rect x="913" y="113" width="4" height="2" fill="#ff0000"/>
<rect x="919" y="104" width="1" height="12" fill="#00ff00"/><rect x="918" y="106" width="3" height="8" fill="#00ff00"/>
<rect x="924" y="93" width="1" height="7" fill="#00ff00"/><rect x="922" y="94" width="4" height="5" fill="#00ff00"/>
<rect x="928" y="97" width="1" height="10" fill="#00ff00"/><rect x="927" y="101" width="3" height="5" fill="#00ff00"/>
<rect x="933" y="92" width="1" height="43" fill="#ff0000"/><rect x="931" y="94" width="4" height="29" fill="#ff0000"/>
<rect x="937" y="122" width="1" height="33" fill="#ff0000"/><rect x="936" y="122" width="3" height="24" fill="#ff0000"/>
<rect x="942" y="141" width="1" height="22" fill="#ff0000"/><rect x="941" y="143" width="3" height="15" fill="#ff0000"/>
<rect x="946" y="163" width="1" height="57" fill="#ff0000"/><rect x="945" y="168" width="3" height="39" fill="#ff0000"/>
<rect x="951" y="165" width="1" height="31" fill="#00ff00"/><rect x="950" y="165" width="3" height="28" fill="#00ff00"/>
<rect x="955" y="143" width="1" height="29" fill="#00ff00"/><rect x="954" y="146" width="4" height="19" fill="#00ff00"/>
<rect x="960" y="122" width="1" height="15" fill="#00ff00"/><rect x="959" y="130" width="3" height="6" fill="#00ff00"/>
<rect x="964" y="129" width="1" height="21" fill="#ff0000"/><rect x="963" y="134" width="4" height="11" fill="#ff0000"/>
<rect x="969" y="124" width="1" height="12" fill="#00ff00"/><rect x="968" y="130" width="3" height="6" fill="#00ff00"/>
<rect x="973" y="128" width="1" height="13" fill="#ff0000"/><rect x="972" y="128" width="4" height="13" fill="#ff0000"/>
<rect x="978" y="134" width="1" height="16" fill="#ff0000"/><rect x="977" y="137" width="3" height="5" fill="#ff0000"/>
<rect x="983" y="129" width="1" height="40" fill="#ff0000"/><rect x="981" y="132" width="4" height="36" fill="#ff0000"/>
<rect x="987" y="160" width="1" height="46" fill="#00ff00"/><rect x="986" y="160" width="3" height="44" fill="#00ff00"/>
<rect x="992" y="171" width="1" height="28" fill="#ff0000"/><rect x="990" y="173" width="4" height="24" fill="#ff0000"/>
<rect x="996" y="192" width="1" height="23" fill="#ff0000"/><rect x="995" y="193" width="3" height="22" fill="#ff0000"/>
<rect x="1001" y="189" width="1" height="38" fill="#00ff00"/><rect x="999" y="196" width="4" height="14" fill="#00ff00"/>
<rect x="1005" y="171" width="1" height="25" fill="#00ff00"/><rect x="1004" y="171" width="3" height="16" fill="#00ff00"/>
<rect x="1010" y="160" width="1" height="14" fill="#00ff00"/><rect x="1009" y="162" width="3" height="7" fill="#00ff00"/>
<rect x="1014" y="151" width="1" height="19" fill="#ff0000"/><rect x="1013" y="166" width="3" height="3" fill="#ff0000"/>
<rect x="1019" y="159" width="1" height="18" fill="#00ff00"/><rect x="1018" y="159" width="3" height="9" fill="#00ff00"/>
<rect x="1023" y="140" width="1" height="17" fill="#00ff00"/><rect x="1022" y="144" width="3" height="10" fill="#00ff00"/>
<rect x="1028" y="131" width="1" height="13" fill="#00ff00"/><rect x="1027" y="132" width="3" height="2" fill="#00ff00"/>
<rect x="1032" y="127" width="1" height="16" fill="#ff0000"/><rect x="1031" y="134" width="4" height="7" fill="#ff0000"/>
<rect x="1037" y="131" width="1" height="9" fill="#ff0000"/><rect x="1036" y="133" width="3" height="4" fill="#ff0000"/>
<rect x="1041" y="117" width="1" height="18" fill="#00ff00"/><rect x="1040" y="117" width="4" height="17" fill="#00ff00"/>
<rect x="1046" y="105" width="1" height="11" fill="#00ff00"/><rect x="1045" y="109" width="3" height="3" fill="#00ff00"/>
<rect x="1051" y="98" width="1" height="18" fill="#ff0000"/><rect x="1049" y="103" width="4" height="4" fill="#ff0000"/>
<rect x="1055" y="95" width="1" height="11" fill="#00ff00"/><rect x="1054" y="95" width="3" height="6" fill="#00ff00"/>
<rect x="1060" y="90" width="1" height="15" fill="#ff0000"/><rect x="1058" y="92" width="4" height="11" fill="#ff0000"/>
<rect x="1064" y="94" width="1" height="21" fill="#ff0000"/><rect x="1063" y="96" width="3" height="17" fill="#ff0000"/>
<rect x="1069" y="92" width="1" height="27" fill="#00ff00"/><rect x="1067" y="92" width="4" height="13" fill="#00ff00"/>
<rect x="1073" y="73" width="1" height="14" fill="#00ff00"/><rect x="1072" y="80" width="3" height="5" fill="#00ff00"/>
<rect x="1078" y="69" width="1" height="14" fill="#00ff00"/><rect x="1076" y="74" width="4" height="4" fill="#00ff00"/>
<rect x="1082" y="68" width="1" height="11" fill="#ff0000"/><rect x="1081" y="72" width="3" height="2" fill="#ff0000"/>
<rect x="1087" y="69" width="1" height="16" fill="#ff0000"/><rect x="1086" y="73" width="3" height="4" fill="#ff0000"/>
<rect x="1091" y="66" width="1" height="9" fill="#00ff00"/><rect x="1090" y="71" width="3" height="4" fill="#00ff00"/>
<rect x="1096" y="60" width="1" height="7" fill="#ff0000"/><rect x="1095" y="64" width="3" height="3" fill="#ff0000"/>
<rect x="1100" y="61" width="1" height="22" fill="#ff0000"/><rect x="1099" y="63" width="3" height="14" fill="#ff0000"/>
<rect x="1105" y="63" width="1" height="18" fill="#00ff00"/><rect x="1104" y="67" width="3" height="13" fill="#00ff00"/>
<rect x="1109" y="50" width="1" height="9" fill="#00ff00"/><rect x="1108" y="51" width="4" height="8" fill="#00ff00"/>
<rect x="1114" y="47" width="1" height="9" fill="#ff0000"/><rect x="1113" y="50" width="3" height="5" fill="#ff0000"/>
<rect x="1118" y="48" width="1" height="18" fill="#ff0000"/><rect x="1117" y="53" width="4" height="11" fill="#ff0000"/>
<rect x="1123" y="70" width="1" height="19" fill="#ff0000"/><rect x="1122" y="70" width="3" height="19" fill="#ff0000"/>
</g>
<g fill="#ffff00" shape-rendering="crispEdges">
<rect x="1128" y="0" width="1" height="496"/>
<rect x="1129" y="18" width="5" height="1"/>
<rect x="1129" y="37" width="5" height="1"/>
<rect x="1129" y="55" width="5" height="1"/>
<rect x="1129" y="74" width="5" height="1"/>
<rect x="1129" y="112" width="5" height="1"/>
<rect x="1129" y="130" width="5" height="1"/>
<rect x="1129" y="149" width="5" height="1"/>
<rect x="1129" y="168" width="5" height="1"/>
<rect x="1129" y="187" width="5" height="1"/>
<rect x="1129" y="206" width="5" height="1"/>
<rect x="1129" y="224" width="5" height="1"/>
<rect x="1129" y="243" width="5" height="1"/>
<rect x="1129" y="262" width="5" height="1"/>
<rect x="1129" y="281" width="5" height="1"/>
<rect x="1129" y="299" width="5" height="1"/>
<rect x="1129" y="322" width="5" height="1"/>
<rect x="1129" y="331" width="5" height="1"/>
<rect x="1129" y="339" width="5" height="1"/>
<rect x="1129" y="348" width="5" height="1"/>
<rect x="1129" y="357" width="5" height="1"/>
<rect x="1129" y="366" width="5" height="1"/>
<rect x="1129" y="374" width="5" height="1"/>
<rect x="1129" y="383" width="5" height="1"/>
<rect x="1129" y="392" width="5" height="1"/>
<rect x="1129" y="400" width="5" height="1"/>
<rect x="1129" y="409" width="5" height="1"/>
<rect x="1129" y="418" width="5" height="1"/>
<rect x="1129" y="426" width="5" height="1"/>
<rect x="1129" y="435" width="5" height="1"/>
<rect x="1129" y="444" width="5" height="1"/>
<rect x="1129" y="449" width="5" height="1"/>
<rect x="1129" y="454" width="5" height="1"/>
<rect x="1129" y="459" width="5" height="1"/>
<rect x="1129" y="464" width="5" height="1"/>
</g>
<g font-family="'Liberation Sans',Arial,sans-serif" font-size="11" fill="#fff" stroke="#fff" stroke-width="0.2" paint-order="stroke" letter-spacing="-0.35">
<text x="1138" y="22.3">1,680</text>
<text x="1138" y="41.1">1,660</text>
<text x="1138" y="59.8">1,640</text>
<text x="1138" y="78.6">1,620</text>
<text x="1138" y="116.1">1,580</text>
<text x="1138" y="134.9">1,560</text>
<text x="1138" y="153.7">1,540</text>
<text x="1138" y="172.5">1,520</text>
<text x="1138" y="191.2">1,500</text>
<text x="1138" y="210.0">1,480</text>
<text x="1138" y="228.8">1,460</text>
<text x="1138" y="247.5">1,440</text>
<text x="1138" y="266.3">1,420</text>
<text x="1138" y="285.1">1,400</text>
<text x="1138" y="303.9">1,380</text>
<text x="1137" y="343.9">24</text>
<text x="1137" y="361.3">16</text>
<text x="1137" y="378.7">8</text>
<text x="1137" y="396.1">0</text>
<text x="1137" y="413.5">-8</text>
<text x="1137" y="430.9">-16</text>
<text x="1137" y="458">22M</text>
<text x="98" y="476">21/06</text>
<text x="188" y="476">19/07</text>
<text x="279" y="476">20/08</text>
<text x="369" y="476">17/09</text>
<text x="460" y="476">15/10</text>
<text x="551" y="476">13/11</text>
<text x="641" y="476">13/12</text>
<text x="732" y="476">14/01</text>
<text x="822" y="476">11/02</text>
<text x="913" y="476">12/03</text>
<text x="1004" y="476">10/04</text>
<text x="1094" y="476">14/05</text>
<text x="7" y="492">2555</text>
<text x="39" y="492">Jun</text>
<text x="129" y="492">Jul</text>
<text x="229" y="492">Aug</text>
<text x="324" y="492">Sep</text>
<text x="415" y="492">Oct</text>
<text x="514" y="492">Nov</text>
<text x="614" y="492">Dec</text>
<text x="696" y="492">2556</text>
<text x="795" y="492">Feb</text>
<text x="881" y="492">Mar</text>
<text x="976" y="492">Apr</text>
<text x="1063" y="492">May</text>
</g>
<rect x="1129" y="89" width="54" height="15" fill="#baf6c0" shape-rendering="crispEdges"/>
<text x="1129.6" y="99.6" font-family="'Liberation Sans',Arial,sans-serif" font-size="11" fill="#141414" stroke="#141414" stroke-width="0.2" letter-spacing="-0.3">1,605.12</text>
<path d="M1128 160.6 L1138.4 173.6 L1133.8 173.6 L1133.8 187.4 L1122 187.4 L1122 173.6 L1117.5 173.6 Z" fill="none" stroke="#ff7f27" stroke-width="4.5" stroke-linejoin="round"/>
</svg>
</body></html>
